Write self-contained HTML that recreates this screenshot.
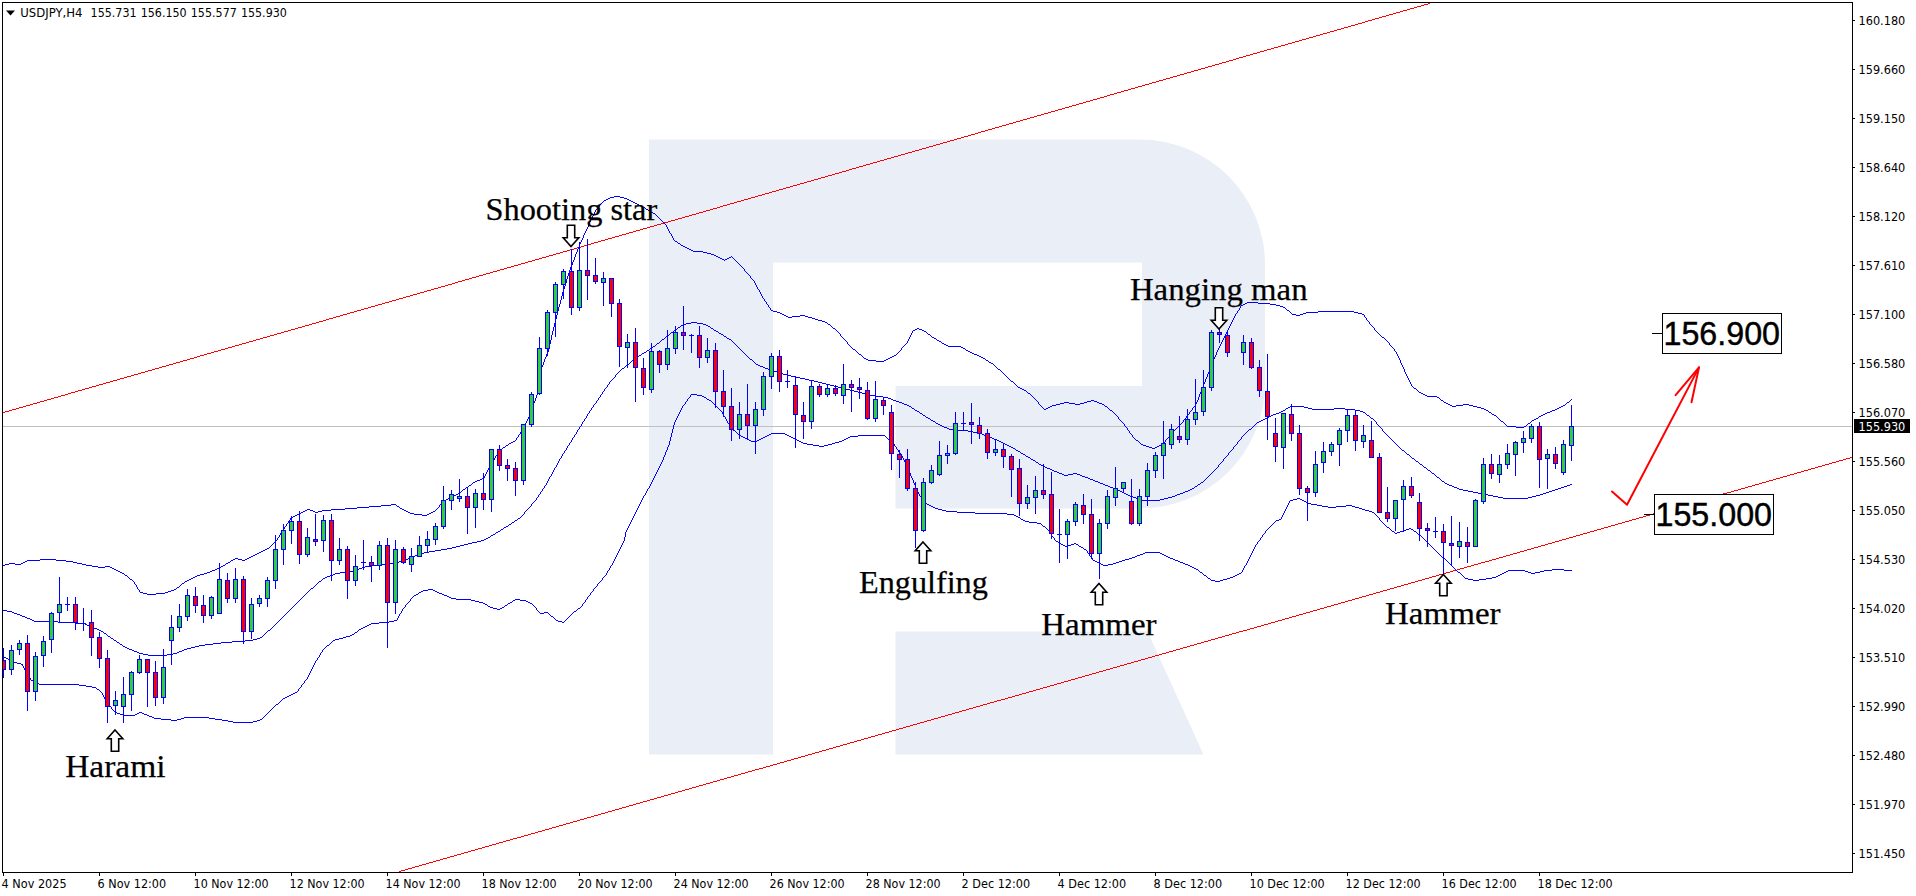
<!DOCTYPE html>
<html lang="en"><head><meta charset="utf-8"><title>USDJPY H4</title>
<style>html,body{margin:0;padding:0;background:#fff;overflow:hidden}svg{display:block}.ax{font-family:"DejaVu Sans","Liberation Sans",sans-serif;font-size:12.4px;fill:#000}.an{font-family:"Liberation Serif","DejaVu Serif",serif;font-size:32px;fill:#000;stroke:#000;stroke-width:0.25px}.pb{font-family:"Liberation Sans","DejaVu Sans",sans-serif;font-size:33.5px;fill:#000;stroke:#000;stroke-width:0.45px}</style></head><body>
<svg width="1916" height="896" viewBox="0 0 1916 896">
<rect width="1916" height="896" fill="#fff"/>
<defs><clipPath id="cp"><rect x="3" y="3" width="1849" height="869"/></clipPath></defs>
<g fill="#eaeef6">
<path fill-rule="evenodd" d="M649 139.5 H1140 A125 125 0 0 1 1265 264.5 V383.5 A125 125 0 0 1 1140 508.5 H895.5 V386 H773 V754.5 H649 Z M773 262.5 H1142 V386 H773 Z"/>
<path d="M895.5 631.5 H1147.5 L1203.5 754.5 H895.5 Z"/>
</g>
<rect x="3" y="426" width="1849" height="1" fill="#c0c0c0"/>
<path fill="#ff0000" shape-rendering="crispEdges" d="M518 264h3v1h-3zM1271 48h3v1h-3zM92 386h4v1h-4zM256 339h4v1h-4zM417 293h3v1h-3zM936 144h4v1h-4zM1260 51h4v1h-4zM82 389h3v1h-3zM835 173h4v1h-4zM601 240h4v1h-4zM1194 70h4v1h-4zM1355 24h3v1h-3zM148 370h4v1h-4zM765 193h4v1h-4zM668 221h3v1h-3zM926 147h3v1h-3zM828 175h4v1h-4zM242 343h4v1h-4zM500 269h4v1h-4zM859 166h4v1h-4zM1020 120h3v1h-3zM1344 27h4v1h-4zM1110 94h4v1h-4zM657 224h4v1h-4zM818 178h3v1h-3zM71 392h4v1h-4zM232 346h3v1h-3zM1177 75h3v1h-3zM1337 29h4v1h-4zM849 169h3v1h-3zM751 197h4v1h-4zM1009 123h4v1h-4zM323 320h3v1h-3zM483 274h3v1h-3zM1076 104h3v1h-3zM842 171h4v1h-4zM221 349h4v1h-4zM1166 78h4v1h-4zM1327 32h3v1h-3zM741 200h3v1h-3zM54 397h4v1h-4zM312 323h4v1h-4zM214 351h4v1h-4zM832 174h3v1h-3zM992 128h3v1h-3zM406 296h4v1h-4zM1351 25h4v1h-4zM1316 35h4v1h-4zM472 277h4v1h-4zM730 203h4v1h-4zM633 231h3v1h-3zM1250 54h3v1h-3zM1410 8h4v1h-4zM44 400h3v1h-3zM204 354h3v1h-3zM563 251h4v1h-4zM821 177h4v1h-4zM981 131h4v1h-4zM138 373h3v1h-3zM298 327h4v1h-4zM1341 28h3v1h-3zM915 150h4v1h-4zM462 280h3v1h-3zM1239 57h4v1h-4zM1142 85h3v1h-3zM127 376h4v1h-4zM880 160h4v1h-4zM647 227h3v1h-3zM807 181h4v1h-4zM1400 11h3v1h-3zM971 134h4v1h-4zM1131 88h4v1h-4zM546 256h3v1h-3zM1065 107h4v1h-4zM1226 61h3v1h-3zM19 407h4v1h-4zM378 304h4v1h-4zM636 230h4v1h-4zM797 184h3v1h-3zM1389 14h4v1h-4zM51 398h3v1h-3zM211 352h3v1h-3zM1156 81h3v1h-3zM277 333h4v1h-4zM438 287h3v1h-3zM1055 110h3v1h-3zM957 138h4v1h-4zM9 410h3v1h-3zM368 307h3v1h-3zM528 261h4v1h-4zM103 383h3v1h-3zM1145 84h4v1h-4zM1306 38h3v1h-3zM720 206h3v1h-3zM852 168h4v1h-4zM1212 65h3v1h-3zM1372 19h3v1h-3zM33 403h4v1h-4zM194 357h3v1h-3zM786 187h4v1h-4zM947 141h3v1h-3zM357 310h4v1h-4zM877 161h3v1h-3zM1037 115h4v1h-4zM452 283h3v1h-3zM612 237h3v1h-3zM23 406h3v1h-3zM183 360h4v1h-4zM542 257h4v1h-4zM703 211h3v1h-3zM1295 41h4v1h-4zM117 379h3v1h-3zM89 387h3v1h-3zM249 341h4v1h-4zM866 164h4v1h-4zM1027 118h3v1h-3zM441 286h4v1h-4zM343 314h4v1h-4zM961 137h3v1h-3zM1121 91h3v1h-3zM532 260h3v1h-3zM692 214h4v1h-4zM173 363h3v1h-3zM333 317h3v1h-3zM950 140h4v1h-4zM1016 121h4v1h-4zM591 243h3v1h-3zM682 217h3v1h-3zM1362 22h3v1h-3zM776 190h3v1h-3zM347 313h3v1h-3zM507 267h4v1h-4zM1100 97h4v1h-4zM574 248h3v1h-3zM1191 71h3v1h-3zM1093 99h4v1h-4zM1285 44h3v1h-3zM78 390h4v1h-4zM336 316h4v1h-4zM239 344h3v1h-3zM497 270h3v1h-3zM856 167h3v1h-3zM1083 102h3v1h-3zM1243 56h3v1h-3zM1274 47h4v1h-4zM68 393h3v1h-3zM228 347h4v1h-4zM748 198h3v1h-3zM908 152h4v1h-4zM162 366h4v1h-4zM1072 105h4v1h-4zM486 273h4v1h-4zM413 294h4v1h-4zM577 247h4v1h-4zM737 201h4v1h-4zM152 369h3v1h-3zM1257 52h3v1h-3zM671 220h4v1h-4zM218 350h3v1h-3zM995 127h4v1h-4zM898 155h3v1h-3zM1058 109h4v1h-4zM661 223h3v1h-3zM887 158h4v1h-4zM302 326h3v1h-3zM1407 9h3v1h-3zM553 254h3v1h-3zM1396 12h4v1h-4zM811 180h3v1h-3zM284 331h4v1h-4zM445 285h3v1h-3zM1062 108h3v1h-3zM1222 62h4v1h-4zM476 276h3v1h-3zM863 165h3v1h-3zM274 334h3v1h-3zM793 185h4v1h-4zM1051 111h4v1h-4zM954 139h3v1h-3zM465 279h4v1h-4zM626 233h3v1h-3zM1117 92h4v1h-4zM1278 46h3v1h-3zM458 281h4v1h-4zM783 188h3v1h-3zM943 142h4v1h-4zM197 356h3v1h-3zM1302 39h4v1h-4zM448 284h4v1h-4zM608 238h4v1h-4zM1201 68h4v1h-4zM1386 15h3v1h-3zM598 241h3v1h-3zM758 195h4v1h-4zM1375 18h4v1h-4zM790 186h3v1h-3zM263 337h4v1h-4zM424 291h3v1h-3zM587 244h4v1h-4zM1107 95h3v1h-3zM1267 49h4v1h-4zM253 340h3v1h-3zM155 368h4v1h-4zM772 191h4v1h-4zM933 145h3v1h-3zM319 321h4v1h-4zM479 275h4v1h-4zM145 371h3v1h-3zM504 268h3v1h-3zM762 194h3v1h-3zM664 222h4v1h-4zM922 148h4v1h-4zM1281 45h4v1h-4zM988 129h4v1h-4zM403 297h3v1h-3zM169 364h4v1h-4zM1180 74h4v1h-4zM134 374h4v1h-4zM493 271h4v1h-4zM1246 55h4v1h-4zM159 367h3v1h-3zM912 151h3v1h-3zM1330 31h4v1h-4zM1097 98h3v1h-3zM1421 5h3v1h-3zM309 324h3v1h-3zM469 278h3v1h-3zM727 204h3v1h-3zM1086 101h4v1h-4zM207 353h4v1h-4zM1313 36h3v1h-3zM978 132h3v1h-3zM392 300h4v1h-4zM124 377h3v1h-3zM643 228h4v1h-4zM1236 58h3v1h-3zM58 396h3v1h-3zM30 404h3v1h-3zM190 358h4v1h-4zM710 209h3v1h-3zM968 135h3v1h-3zM382 303h3v1h-3zM901 154h4v1h-4zM1152 82h4v1h-4zM113 380h4v1h-4zM891 157h3v1h-3zM622 234h4v1h-4zM288 330h3v1h-3zM1041 114h3v1h-3zM514 265h4v1h-4zM675 219h3v1h-3zM1292 42h3v1h-3zM706 210h4v1h-4zM180 361h3v1h-3zM1023 119h4v1h-4zM1184 73h3v1h-3zM1215 64h4v1h-4zM689 215h3v1h-3zM1013 122h3v1h-3zM1173 76h4v1h-4zM427 290h4v1h-4zM61 395h4v1h-4zM420 292h4v1h-4zM678 218h4v1h-4zM839 172h3v1h-3zM1198 69h3v1h-3zM1358 23h4v1h-4zM1187 72h4v1h-4zM1348 26h3v1h-3zM654 225h3v1h-3zM225 348h3v1h-3zM385 302h4v1h-4zM1002 125h4v1h-4zM1163 79h3v1h-3zM804 182h3v1h-3zM375 305h3v1h-3zM734 202h3v1h-3zM894 156h4v1h-4zM567 250h3v1h-3zM1219 63h3v1h-3zM40 401h4v1h-4zM399 298h4v1h-4zM723 205h4v1h-4zM884 159h3v1h-3zM1403 10h4v1h-4zM389 301h3v1h-3zM549 255h4v1h-4zM873 162h4v1h-4zM1233 59h3v1h-3zM1393 13h3v1h-3zM539 258h3v1h-3zM699 212h4v1h-4zM1382 16h4v1h-4zM364 308h4v1h-4zM1048 112h3v1h-3zM1208 66h4v1h-4zM354 311h3v1h-3zM713 208h4v1h-4zM260 338h3v1h-3zM940 143h3v1h-3zM85 388h4v1h-4zM929 146h4v1h-4zM75 391h3v1h-3zM434 288h4v1h-4zM594 242h4v1h-4zM99 384h4v1h-4zM584 245h3v1h-3zM744 199h4v1h-4zM410 295h3v1h-3zM1253 53h4v1h-4zM1414 7h3v1h-3zM919 149h3v1h-3zM1079 103h4v1h-4zM65 394h3v1h-3zM131 375h3v1h-3zM650 226h4v1h-4zM120 378h4v1h-4zM640 229h3v1h-3zM800 183h4v1h-4zM1159 80h4v1h-4zM1417 6h4v1h-4zM1124 90h4v1h-4zM305 325h4v1h-4zM629 232h4v1h-4zM295 328h3v1h-3zM455 282h3v1h-3zM615 236h4v1h-4zM605 239h3v1h-3zM964 136h4v1h-4zM1288 43h4v1h-4zM110 381h3v1h-3zM270 335h4v1h-4zM1114 93h3v1h-3zM3 412h2v1h-2zM619 235h3v1h-3zM779 189h4v1h-4zM1138 86h4v1h-4zM326 319h3v1h-3zM350 312h4v1h-4zM511 266h3v1h-3zM769 192h3v1h-3zM1128 89h3v1h-3zM16 408h3v1h-3zM176 362h4v1h-4zM340 315h3v1h-3zM166 365h3v1h-3zM1104 96h3v1h-3zM1428 3h2v1h-2zM316 322h3v1h-3zM999 126h3v1h-3zM825 176h3v1h-3zM329 318h4v1h-4zM490 272h3v1h-3zM37 402h3v1h-3zM556 253h4v1h-4zM814 179h4v1h-4zM1334 30h3v1h-3zM1323 33h4v1h-4zM1149 83h3v1h-3zM361 309h3v1h-3zM26 405h4v1h-4zM870 163h3v1h-3zM1030 117h4v1h-4zM535 259h4v1h-4zM696 213h3v1h-3zM1379 17h3v1h-3zM200 355h4v1h-4zM267 336h3v1h-3zM525 262h3v1h-3zM1044 113h4v1h-4zM1205 67h3v1h-3zM5 411h4v1h-4zM1368 20h4v1h-4zM685 216h4v1h-4zM846 170h3v1h-3zM1034 116h3v1h-3zM581 246h3v1h-3zM1424 4h4v1h-4zM246 342h3v1h-3zM570 249h4v1h-4zM1090 100h3v1h-3zM235 345h4v1h-4zM396 299h3v1h-3zM755 196h3v1h-3zM975 133h3v1h-3zM905 153h3v1h-3zM1229 60h4v1h-4zM560 252h3v1h-3zM106 382h4v1h-4zM291 329h4v1h-4zM1069 106h3v1h-3zM281 332h3v1h-3zM431 289h3v1h-3zM96 385h3v1h-3zM1006 124h3v1h-3zM1264 50h3v1h-3zM1320 34h3v1h-3zM141 372h4v1h-4zM985 130h3v1h-3zM1309 37h4v1h-4zM717 207h3v1h-3zM1135 87h3v1h-3zM12 409h4v1h-4zM521 263h4v1h-4zM1299 40h3v1h-3zM187 359h3v1h-3zM1170 77h3v1h-3zM47 399h4v1h-4zM371 306h4v1h-4zM1365 21h3v1h-3zM917 723h3v1h-3zM1078 677h4v1h-4zM1341 602h4v1h-4zM461 853h3v1h-3zM1503 556h3v1h-3zM983 704h4v1h-4zM1597 529h4v1h-4zM1239 631h4v1h-4zM1527 549h4v1h-4zM647 800h3v1h-3zM1688 503h4v1h-4zM808 754h4v1h-4zM1169 651h4v1h-4zM1331 605h3v1h-3zM450 856h4v1h-4zM1264 624h4v1h-4zM1425 578h4v1h-4zM545 829h4v1h-4zM1517 552h3v1h-3zM636 803h4v1h-4zM1678 506h3v1h-3zM798 757h3v1h-3zM1061 682h3v1h-3zM1222 636h3v1h-3zM1611 525h4v1h-4zM731 776h3v1h-3zM1773 479h3v1h-3zM892 730h4v1h-4zM1583 533h4v1h-4zM1745 487h3v1h-3zM1254 627h3v1h-3zM1415 581h3v1h-3zM1839 460h4v1h-4zM822 750h4v1h-4zM1506 555h4v1h-4zM528 834h3v1h-3zM1050 685h4v1h-4zM720 779h4v1h-4zM1145 658h3v1h-3zM1667 509h4v1h-4zM787 760h4v1h-4zM1829 463h3v1h-3zM948 714h4v1h-4zM1236 632h3v1h-3zM1397 586h4v1h-4zM517 837h4v1h-4zM1759 483h3v1h-3zM878 734h4v1h-4zM1492 559h4v1h-4zM612 810h3v1h-3zM973 707h3v1h-3zM1134 661h4v1h-4zM542 830h3v1h-3zM703 784h3v1h-3zM1225 635h4v1h-4zM1387 589h3v1h-3zM1320 608h4v1h-4zM440 859h3v1h-3zM1481 562h4v1h-4zM601 813h4v1h-4zM1843 459h3v1h-3zM962 710h4v1h-4zM864 738h4v1h-4zM1548 543h4v1h-4zM531 833h4v1h-4zM692 787h4v1h-4zM1643 516h3v1h-3zM626 806h3v1h-3zM1310 611h3v1h-3zM429 862h4v1h-4zM1734 490h4v1h-4zM854 741h3v1h-3zM1376 592h4v1h-4zM1471 565h3v1h-3zM591 816h3v1h-3zM1632 519h4v1h-4zM752 770h3v1h-3zM1040 688h3v1h-3zM1201 642h3v1h-3zM1562 539h4v1h-4zM682 790h3v1h-3zM1723 493h4v1h-4zM843 744h4v1h-4zM415 866h4v1h-4zM1657 512h3v1h-3zM777 763h3v1h-3zM1818 466h4v1h-4zM938 717h3v1h-3zM1460 568h4v1h-4zM506 840h4v1h-4zM1029 691h4v1h-4zM1453 570h4v1h-4zM1124 664h3v1h-3zM1646 515h4v1h-4zM766 766h4v1h-4zM1808 469h3v1h-3zM927 720h4v1h-4zM1190 645h4v1h-4zM1352 599h3v1h-3zM496 843h3v1h-3zM857 740h4v1h-4zM759 768h4v1h-4zM920 722h4v1h-4zM1282 619h3v1h-3zM401 870h4v1h-4zM1443 573h3v1h-3zM563 824h3v1h-3zM952 713h3v1h-3zM1113 667h4v1h-4zM1538 546h3v1h-3zM657 797h4v1h-4zM1180 648h3v1h-3zM1629 520h3v1h-3zM748 771h4v1h-4zM1790 474h4v1h-4zM910 725h3v1h-3zM1271 622h4v1h-4zM1432 576h4v1h-4zM1005 698h3v1h-3zM1366 595h3v1h-3zM485 846h4v1h-4zM934 718h4v1h-4zM1096 672h3v1h-3zM577 820h3v1h-3zM1618 523h4v1h-4zM738 774h3v1h-3zM671 793h4v1h-4zM1713 496h3v1h-3zM833 747h3v1h-3zM1355 598h4v1h-4zM1257 626h4v1h-4zM1780 477h3v1h-3zM994 701h3v1h-3zM1155 655h4v1h-4zM661 796h3v1h-3zM1085 675h4v1h-4zM1247 629h3v1h-3zM1769 480h4v1h-4zM552 827h4v1h-4zM1075 678h3v1h-3zM1692 502h3v1h-3zM899 728h4v1h-4zM1261 625h3v1h-3zM1422 579h3v1h-3zM805 755h3v1h-3zM1846 458h4v1h-4zM966 709h3v1h-3zM475 849h3v1h-3zM1159 654h3v1h-3zM727 777h4v1h-4zM889 731h3v1h-3zM1250 628h4v1h-4zM1411 582h4v1h-4zM1313 610h4v1h-4zM1674 507h4v1h-4zM794 758h4v1h-4zM1836 461h3v1h-3zM955 712h4v1h-4zM464 852h4v1h-4zM1573 536h3v1h-3zM1141 659h4v1h-4zM1664 510h3v1h-3zM447 857h3v1h-3zM608 811h4v1h-4zM1064 681h4v1h-4zM1748 486h4v1h-4zM770 765h3v1h-3zM1054 684h3v1h-3zM1215 638h3v1h-3zM1478 563h3v1h-3zM598 814h3v1h-3zM1639 517h4v1h-4zM1120 665h4v1h-4zM1832 462h4v1h-4zM784 761h3v1h-3zM1825 464h4v1h-4zM945 715h3v1h-3zM1467 566h4v1h-4zM587 817h4v1h-4zM1204 641h4v1h-4zM1292 616h4v1h-4zM412 867h3v1h-3zM1653 513h4v1h-4zM773 764h4v1h-4zM1815 467h3v1h-3zM1197 643h4v1h-4zM1359 597h3v1h-3zM868 737h3v1h-3zM1552 542h3v1h-3zM573 821h4v1h-4zM664 795h4v1h-4zM1804 470h4v1h-4zM1187 646h3v1h-3zM1348 600h4v1h-4zM468 851h3v1h-3zM1019 694h3v1h-3zM1709 497h4v1h-4zM924 721h3v1h-3zM492 844h4v1h-4zM1457 569h3v1h-3zM1099 671h4v1h-4zM1001 699h4v1h-4zM1162 653h4v1h-4zM1524 550h3v1h-3zM1685 504h3v1h-3zM1194 644h3v1h-3zM1446 572h4v1h-4zM566 823h4v1h-4zM1608 526h3v1h-3zM990 702h4v1h-4zM1152 656h3v1h-3zM1513 553h4v1h-4zM1183 647h4v1h-4zM1176 649h4v1h-4zM1338 603h3v1h-3zM457 854h4v1h-4zM980 705h3v1h-3zM643 801h4v1h-4zM1166 652h3v1h-3zM1327 606h4v1h-4zM1590 531h4v1h-4zM1752 485h3v1h-3zM1783 476h4v1h-4zM903 727h3v1h-3zM1489 560h3v1h-3zM471 850h4v1h-4zM633 804h3v1h-3zM1317 609h3v1h-3zM436 860h4v1h-4zM622 807h4v1h-4zM1401 585h3v1h-3zM969 708h4v1h-4zM1131 662h3v1h-3zM1555 541h4v1h-4zM1587 532h3v1h-3zM706 783h4v1h-4zM959 711h3v1h-3zM1383 590h4v1h-4zM503 841h3v1h-3zM1576 535h4v1h-4zM1569 537h4v1h-4zM689 788h3v1h-3zM1731 491h3v1h-3zM850 742h4v1h-4zM1211 639h4v1h-4zM1373 593h3v1h-3zM1306 612h4v1h-4zM426 863h3v1h-3zM1036 689h4v1h-4zM1559 540h3v1h-3zM678 791h4v1h-4zM1720 494h3v1h-3zM840 745h3v1h-3zM1296 615h3v1h-3zM1026 692h3v1h-3zM763 767h3v1h-3zM829 748h4v1h-4zM1534 547h4v1h-4zM654 798h3v1h-3zM1015 695h4v1h-4zM1110 668h3v1h-3zM1794 473h3v1h-3zM913 724h4v1h-4zM1362 596h4v1h-4zM482 847h3v1h-3zM906 726h4v1h-4zM1429 577h3v1h-3zM668 794h3v1h-3zM1615 524h3v1h-3zM734 775h4v1h-4zM1776 478h4v1h-4zM896 729h3v1h-3zM405 869h3v1h-3zM1418 580h4v1h-4zM1082 676h3v1h-3zM1243 630h4v1h-4zM1604 527h4v1h-4zM724 778h3v1h-3zM1766 481h3v1h-3zM885 732h4v1h-4zM1699 500h3v1h-3zM819 751h3v1h-3zM549 828h3v1h-3zM1071 679h4v1h-4zM1850 457h2v1h-2zM1232 633h4v1h-4zM1394 587h3v1h-3zM538 831h4v1h-4zM1580 534h3v1h-3zM699 785h4v1h-4zM1408 583h3v1h-3zM1594 530h3v1h-3zM713 781h4v1h-4zM1755 484h4v1h-4zM875 735h3v1h-3zM1299 614h4v1h-4zM1822 465h3v1h-3zM1127 663h4v1h-4zM1289 617h3v1h-3zM408 868h4v1h-4zM1811 468h4v1h-4zM433 861h3v1h-3zM1474 564h4v1h-4zM594 815h4v1h-4zM1117 666h3v1h-3zM1278 620h4v1h-4zM780 762h4v1h-4zM941 716h4v1h-4zM1303 613h3v1h-3zM422 864h4v1h-4zM584 818h3v1h-3zM1625 521h4v1h-4zM931 719h3v1h-3zM1092 673h4v1h-4zM1285 618h4v1h-4zM399 871h2v1h-2zM1801 471h3v1h-3zM1106 669h4v1h-4zM1268 623h3v1h-3zM650 799h4v1h-4zM812 753h3v1h-3zM1520 551h4v1h-4zM640 802h3v1h-3zM1681 505h4v1h-4zM801 756h4v1h-4zM826 749h3v1h-3zM987 703h3v1h-3zM629 805h4v1h-4zM615 809h4v1h-4zM1324 607h3v1h-3zM443 858h4v1h-4zM1485 561h4v1h-4zM605 812h3v1h-3zM791 759h3v1h-3zM1499 557h4v1h-4zM619 808h3v1h-3zM1660 511h4v1h-4zM1043 687h4v1h-4zM1566 538h3v1h-3zM1727 492h4v1h-4zM1650 514h3v1h-3zM1033 690h3v1h-3zM1464 567h3v1h-3zM1008 697h4v1h-4zM1369 594h4v1h-4zM1531 548h3v1h-3zM1716 495h4v1h-4zM836 746h4v1h-4zM478 848h4v1h-4zM1022 693h4v1h-4zM1545 544h3v1h-3zM1706 498h3v1h-3zM1012 696h3v1h-3zM1173 650h3v1h-3zM1695 501h4v1h-4zM1334 604h4v1h-4zM1510 554h3v1h-3zM815 752h4v1h-4zM1762 482h4v1h-4zM976 706h4v1h-4zM1138 660h3v1h-3zM1068 680h3v1h-3zM1229 634h3v1h-3zM871 736h4v1h-4zM1702 499h4v1h-4zM535 832h3v1h-3zM696 786h3v1h-3zM1057 683h4v1h-4zM1218 637h4v1h-4zM1404 584h4v1h-4zM524 835h4v1h-4zM710 782h3v1h-3zM513 838h4v1h-4zM675 792h3v1h-3zM1741 488h4v1h-4zM861 739h3v1h-3zM1047 686h3v1h-3zM1208 640h3v1h-3zM1275 621h3v1h-3zM1436 575h3v1h-3zM580 819h4v1h-4zM1622 522h3v1h-3zM741 773h4v1h-4zM1450 571h3v1h-3zM570 822h3v1h-3zM1636 518h3v1h-3zM755 769h4v1h-4zM1797 472h4v1h-4zM1439 574h4v1h-4zM1787 475h3v1h-3zM559 825h4v1h-4zM1601 528h3v1h-3zM882 733h3v1h-3zM1496 558h3v1h-3zM685 789h4v1h-4zM419 865h3v1h-3zM1103 670h3v1h-3zM745 772h3v1h-3zM997 700h4v1h-4zM1345 601h3v1h-3zM1148 657h4v1h-4zM454 855h3v1h-3zM717 780h3v1h-3zM1671 508h3v1h-3zM1738 489h3v1h-3zM521 836h3v1h-3zM1390 588h4v1h-4zM510 839h3v1h-3zM1380 591h3v1h-3zM499 842h4v1h-4zM1541 545h4v1h-4zM847 743h3v1h-3zM489 845h3v1h-3zM1089 674h3v1h-3zM556 826h3v1h-3z"/>
<path fill="#0000ff" shape-rendering="crispEdges" d="M653 213h2v1h-2zM890 357h2v1h-2zM981 357h2v1h-2zM859 354h2v1h-2zM974 354h3v1h-3zM966 350h2v1h-2zM1060 403h4v1h-4zM1069 403h6v1h-6zM1080 403h4v1h-4zM1099 403h3v1h-3zM1446 403h2v1h-2zM9 563h6v1h-6zM21 563h2v1h-2zM77 563h5v1h-5zM226 563h2v1h-2zM357 507h12v1h-12zM777 312h3v1h-3zM1306 312h12v1h-12zM1354 312h4v1h-4zM1050 406h2v1h-2zM1105 406h2v1h-2zM1452 406h4v1h-4zM1473 406h4v1h-4zM1561 406h2v1h-2zM1064 402h5v1h-5zM1084 402h3v1h-3zM1097 402h2v1h-2zM1444 402h2v1h-2zM1567 402h2v1h-2zM1494 415h2v1h-2zM1541 415h2v1h-2zM1247 302h11v1h-11zM1087 401h4v1h-4zM1094 401h3v1h-3zM120 572h2v1h-2zM207 572h3v1h-3zM833 328h2v1h-2zM917 328h2v1h-2zM1141 444h2v1h-2zM1161 444h2v1h-2zM773 311h4v1h-4zM1318 311h36v1h-36zM924 331h2v1h-2zM782 314h2v1h-2zM1292 314h4v1h-4zM1300 314h3v1h-3zM1362 314h2v1h-2zM1492 414h2v1h-2zM1543 414h2v1h-2zM1024 390h2v1h-2zM876 361h8v1h-8zM1048 407h2v1h-2zM1477 407h4v1h-4zM1559 407h2v1h-2zM892 356h2v1h-2zM979 356h2v1h-2zM1018 387h2v1h-2zM1534 419h2v1h-2zM894 355h2v1h-2zM977 355h2v1h-2zM610 197h4v1h-4zM620 197h4v1h-4zM968 351h2v1h-2zM1245 303h2v1h-2zM1258 303h12v1h-12zM305 510h2v1h-2zM310 510h3v1h-3zM322 510h9v1h-9zM404 510h2v1h-2zM291 517h2v1h-2zM187 580h2v1h-2zM1052 405h4v1h-4zM1450 405h2v1h-2zM1456 405h7v1h-7zM1469 405h4v1h-4zM1563 405h2v1h-2zM961 347h2v1h-2zM143 593h4v1h-4zM156 593h9v1h-9zM25 561h2v1h-2zM66 561h7v1h-7zM780 313h2v1h-2zM1303 313h3v1h-3zM1358 313h4v1h-4zM235 558h3v1h-3zM247 558h2v1h-2zM939 341h2v1h-2zM40 559h16v1h-16zM233 559h2v1h-2zM238 559h4v1h-4zM245 559h2v1h-2zM307 509h3v1h-3zM331 509h14v1h-14zM402 509h2v1h-2zM693 251h10v1h-10zM506 445h2v1h-2zM1143 445h3v1h-3zM1159 445h2v1h-2zM932 337h2v1h-2zM1382 337h2v1h-2zM915 329h2v1h-2zM919 329h3v1h-3zM812 318h3v1h-3zM1550 411h2v1h-2zM1423 394h2v1h-2zM1056 404h4v1h-4zM1075 404h5v1h-5zM1102 404h2v1h-2zM1448 404h2v1h-2zM1463 404h6v1h-6zM608 198h2v1h-2zM624 198h3v1h-3zM297 514h2v1h-2zM414 514h8v1h-8zM427 514h2v1h-2zM946 345h2v1h-2zM1536 418h2v1h-2zM1241 305h2v1h-2zM1276 305h4v1h-4zM267 548h2v1h-2zM122 573h2v1h-2zM204 573h3v1h-3zM130 579h2v1h-2zM189 579h2v1h-2zM140 592h3v1h-3zM165 592h3v1h-3zM822 321h3v1h-3zM1427 396h10v1h-10zM637 204h2v1h-2zM1046 408h2v1h-2zM1481 408h3v1h-3zM1557 408h2v1h-2zM825 322h2v1h-2zM454 495h2v1h-2zM381 505h10v1h-10zM1501 421h2v1h-2zM301 512h2v1h-2zM315 512h3v1h-3zM408 512h2v1h-2zM431 512h2v1h-2zM5 564h4v1h-4zM15 564h6v1h-6zM82 564h4v1h-4zM299 513h2v1h-2zM410 513h4v1h-4zM429 513h2v1h-2zM1028 393h2v1h-2zM1421 393h2v1h-2zM720 258h2v1h-2zM727 258h2v1h-2zM614 196h6v1h-6zM1044 409h2v1h-2zM1484 409h2v1h-2zM1555 409h2v1h-2zM948 346h13v1h-13zM369 506h12v1h-12zM397 506h2v1h-2zM503 447h2v1h-2zM1149 447h3v1h-3zM1155 447h2v1h-2zM125 575h2v1h-2zM197 575h3v1h-3zM913 330h2v1h-2zM922 330h2v1h-2zM27 560h13v1h-13zM56 560h10v1h-10zM231 560h2v1h-2zM242 560h3v1h-3zM998 369h2v1h-2zM641 206h2v1h-2zM480 479h2v1h-2zM259 552h2v1h-2zM446 499h2v1h-2zM818 320h4v1h-4zM944 344h2v1h-2zM1507 426h9v1h-9zM1524 426h2v1h-2zM683 246h2v1h-2zM1532 420h2v1h-2zM112 568h2v1h-2zM217 568h2v1h-2zM1489 412h2v1h-2zM1547 412h3v1h-3zM868 360h8v1h-8zM884 360h2v1h-2zM986 360h2v1h-2zM928 334h2v1h-2zM1280 306h3v1h-3zM1425 395h2v1h-2zM513 441h2v1h-2zM98 567h7v1h-7zM110 567h2v1h-2zM219 567h2v1h-2zM114 569h2v1h-2zM215 569h2v1h-2zM147 594h9v1h-9zM942 343h2v1h-2zM687 248h2v1h-2zM853 349h2v1h-2zM970 352h2v1h-2zM989 362h2v1h-2zM1243 304h2v1h-2zM1270 304h6v1h-6zM168 591h3v1h-3zM786 316h2v1h-2zM792 316h8v1h-8zM805 316h3v1h-3zM934 338h2v1h-2zM249 557h2v1h-2zM771 310h2v1h-2zM1287 310h2v1h-2zM1022 389h2v1h-2zM1020 388h2v1h-2zM1414 388h2v1h-2zM195 576h2v1h-2zM475 481h2v1h-2zM972 353h2v1h-2zM1528 423h2v1h-2zM463 489h2v1h-2zM23 562h2v1h-2zM73 562h4v1h-4zM228 562h2v1h-2zM991 363h2v1h-2zM345 508h12v1h-12zM400 508h2v1h-2zM3 565h2v1h-2zM86 565h6v1h-6zM223 565h2v1h-2zM681 245h2v1h-2zM1146 446h3v1h-3zM1157 446h2v1h-2zM606 199h2v1h-2zM627 199h2v1h-2zM185 581h2v1h-2zM631 201h2v1h-2zM177 587h2v1h-2zM1539 416h2v1h-2zM1110 410h2v1h-2zM1486 410h2v1h-2zM1552 410h3v1h-3zM257 553h2v1h-2zM92 566h6v1h-6zM105 566h5v1h-5zM221 566h2v1h-2zM864 358h2v1h-2zM888 358h2v1h-2zM983 358h2v1h-2zM1516 427h8v1h-8zM685 247h2v1h-2zM1011 381h2v1h-2zM500 449h2v1h-2zM193 577h2v1h-2zM707 253h4v1h-4zM722 259h2v1h-2zM725 259h2v1h-2zM182 583h2v1h-2zM689 249h2v1h-2zM1437 397h2v1h-2zM200 574h4v1h-4zM116 570h2v1h-2zM212 570h3v1h-3zM265 549h2v1h-2zM456 494h2v1h-2zM651 212h2v1h-2zM963 348h2v1h-2zM718 257h2v1h-2zM729 257h2v1h-2zM452 496h2v1h-2zM815 319h3v1h-3zM191 578h2v1h-2zM1091 400h3v1h-3zM1441 400h2v1h-2zM784 315h2v1h-2zM800 315h5v1h-5zM1296 315h4v1h-4zM477 480h3v1h-3zM639 205h2v1h-2zM675 241h2v1h-2zM444 500h2v1h-2zM711 254h3v1h-3zM1545 413h2v1h-2zM648 210h2v1h-2zM828 324h2v1h-2zM866 359h2v1h-2zM886 359h2v1h-2zM303 511h2v1h-2zM313 511h2v1h-2zM318 511h4v1h-4zM406 511h2v1h-2zM433 511h2v1h-2zM643 207h2v1h-2zM295 515h2v1h-2zM422 515h5v1h-5zM448 498h2v1h-2zM391 504h5v1h-5zM1152 448h3v1h-3zM691 250h2v1h-2zM1419 392h2v1h-2zM604 200h2v1h-2zM629 200h2v1h-2zM118 571h2v1h-2zM210 571h2v1h-2zM459 492h2v1h-2zM635 203h2v1h-2zM174 589h2v1h-2zM788 317h4v1h-4zM808 317h4v1h-4zM255 554h2v1h-2zM646 209h2v1h-2zM678 243h2v1h-2zM511 442h2v1h-2zM937 340h2v1h-2zM469 485h2v1h-2zM716 256h2v1h-2zM171 590h3v1h-3zM1136 440h2v1h-2zM633 202h2v1h-2zM509 443h2v1h-2zM466 487h2v1h-2zM703 252h4v1h-4zM263 550h2v1h-2zM450 497h2v1h-2zM714 255h2v1h-2zM293 516h2v1h-2zM253 555h2v1h-2zM1283 307h2v1h-2zM261 551h2v1h-2zM473 482h2v1h-2zM482 478h2v1h-2zM251 556h2v1h-2zM594 212h1v2h-1zM557 311h1v4h-1zM545 357h1v2h-1zM1217 350h1v2h-1zM1406 374h1v2h-1zM1037 401h1v1h-1zM539 378h1v6h-1zM523 427h1v2h-1zM1124 424h1v2h-1zM1196 402h1v2h-1zM1407 376h1v2h-1zM269 547h1v1h-1zM548 348h1v4h-1zM1230 324h1v2h-1zM562 292h1v4h-1zM574 257h1v3h-1zM1565 404h1v1h-1zM909 337h1v2h-1zM556 315h1v4h-1zM1209 369h1v3h-1zM540 372h1v6h-1zM230 561h1v1h-1zM1221 342h1v2h-1zM744 269h1v2h-1zM566 279h1v4h-1zM1290 312h1v1h-1zM484 476h1v2h-1zM590 220h1v2h-1zM531 409h1v3h-1zM527 419h1v2h-1zM553 327h1v4h-1zM544 359h1v3h-1zM1116 415h1v1h-1zM985 359h1v1h-1zM519 434h1v1h-1zM766 302h1v2h-1zM1443 401h1v1h-1zM1374 328h1v2h-1zM1496 416h1v1h-1zM1205 379h1v3h-1zM1172 432h1v1h-1zM849 345h1v1h-1zM759 290h1v2h-1zM561 296h1v4h-1zM573 260h1v2h-1zM905 344h1v1h-1zM492 461h1v2h-1zM680 244h1v1h-1zM1399 358h1v2h-1zM770 308h1v2h-1zM289 520h1v1h-1zM1123 423h1v1h-1zM134 582h1v2h-1zM1208 372h1v2h-1zM565 283h1v3h-1zM577 249h1v3h-1zM1396 352h1v2h-1zM536 395h1v3h-1zM1380 335h1v1h-1zM272 544h1v1h-1zM1409 380h1v2h-1zM755 283h1v2h-1zM1000 370h1v1h-1zM552 331h1v4h-1zM284 527h1v2h-1zM1127 428h1v2h-1zM1381 336h1v1h-1zM496 455h1v1h-1zM124 574h1v1h-1zM1213 359h1v3h-1zM1225 334h1v2h-1zM488 468h1v2h-1zM585 231h1v2h-1zM1569 401h1v1h-1zM1026 391h1v1h-1zM841 336h1v1h-1zM1184 419h1v1h-1zM1216 352h1v3h-1zM1439 398h1v1h-1zM280 533h1v2h-1zM897 353h1v1h-1zM1115 414h1v1h-1zM437 508h1v1h-1zM440 504h1v1h-1zM1236 313h1v1h-1zM848 344h1v1h-1zM543 362h1v3h-1zM1179 425h1v1h-1zM1373 327h1v1h-1zM1394 349h1v2h-1zM769 307h1v1h-1zM468 486h1v1h-1zM547 352h1v2h-1zM1395 351h1v1h-1zM655 214h1v1h-1zM1036 400h1v1h-1zM569 270h1v3h-1zM1526 425h1v1h-1zM138 589h1v1h-1zM1192 408h1v2h-1zM1240 306h1v2h-1zM1204 382h1v2h-1zM1405 372h1v2h-1zM1538 417h1v1h-1zM589 222h1v2h-1zM1232 320h1v2h-1zM564 286h1v3h-1zM1286 309h1v1h-1zM650 211h1v1h-1zM661 220h1v1h-1zM1187 415h1v1h-1zM515 440h1v1h-1zM840 334h1v2h-1zM662 221h1v1h-1zM1372 326h1v1h-1zM1006 376h1v1h-1zM499 450h1v1h-1zM912 331h1v2h-1zM1207 374h1v3h-1zM535 398h1v3h-1zM995 366h1v1h-1zM522 429h1v2h-1zM1231 322h1v2h-1zM1007 377h1v1h-1zM551 335h1v5h-1zM1488 411h1v1h-1zM1398 356h1v2h-1zM732 257h1v1h-1zM1199 394h1v3h-1zM847 342h1v2h-1zM1195 404h1v2h-1zM495 456h1v2h-1zM754 281h1v2h-1zM908 339h1v2h-1zM733 258h1v1h-1zM1176 428h1v1h-1zM176 588h1v1h-1zM1215 355h1v2h-1zM584 233h1v2h-1zM1126 427h1v1h-1zM1227 330h1v2h-1zM137 587h1v2h-1zM1129 431h1v2h-1zM660 219h1v1h-1zM572 262h1v3h-1zM276 540h1v1h-1zM1039 404h1v1h-1zM597 208h1v1h-1zM279 535h1v2h-1zM1130 433h1v1h-1zM1220 344h1v2h-1zM526 421h1v2h-1zM538 384h1v6h-1zM576 252h1v2h-1zM491 463h1v2h-1zM930 335h1v1h-1zM740 265h1v1h-1zM588 224h1v3h-1zM855 350h1v1h-1zM518 435h1v2h-1zM542 365h1v2h-1zM994 365h1v1h-1zM568 273h1v3h-1zM1112 411h1v1h-1zM931 336h1v1h-1zM746 272h1v1h-1zM1203 384h1v3h-1zM283 529h1v1h-1zM581 240h1v2h-1zM1118 417h1v2h-1zM1168 437h1v1h-1zM593 214h1v2h-1zM747 273h1v1h-1zM731 256h1v1h-1zM768 305h1v2h-1zM1239 308h1v2h-1zM1387 341h1v1h-1zM904 345h1v1h-1zM1119 419h1v1h-1zM563 289h1v3h-1zM537 390h1v5h-1zM560 300h1v4h-1zM1397 354h1v2h-1zM1571 399h1v1h-1zM1163 443h1v1h-1zM1183 420h1v2h-1zM1032 396h1v1h-1zM554 323h1v4h-1zM600 204h1v1h-1zM462 490h1v1h-1zM899 351h1v1h-1zM1013 382h1v1h-1zM738 263h1v1h-1zM1235 314h1v2h-1zM839 333h1v1h-1zM1364 315h1v2h-1zM739 264h1v1h-1zM559 304h1v3h-1zM1404 369h1v3h-1zM1174 430h1v1h-1zM546 354h1v3h-1zM1386 340h1v1h-1zM1365 317h1v1h-1zM225 564h1v1h-1zM1171 433h1v1h-1zM129 578h1v1h-1zM1375 330h1v1h-1zM550 340h1v4h-1zM907 341h1v2h-1zM1031 395h1v1h-1zM1214 357h1v2h-1zM1117 416h1v1h-1zM1226 332h1v2h-1zM271 545h1v1h-1zM567 276h1v3h-1zM558 307h1v4h-1zM555 319h1v4h-1zM286 524h1v2h-1zM571 265h1v2h-1zM850 346h1v1h-1zM136 585h1v2h-1zM498 451h1v2h-1zM1219 346h1v2h-1zM139 590h1v2h-1zM926 332h1v1h-1zM1206 377h1v2h-1zM549 344h1v4h-1zM525 423h1v2h-1zM1186 416h1v2h-1zM575 254h1v3h-1zM657 216h1v1h-1zM534 401h1v2h-1zM1038 402h1v2h-1zM587 227h1v2h-1zM1001 371h1v1h-1zM927 333h1v1h-1zM439 505h1v2h-1zM442 502h1v1h-1zM911 333h1v2h-1zM896 354h1v1h-1zM1211 364h1v3h-1zM282 530h1v2h-1zM1133 437h1v1h-1zM1181 423h1v1h-1zM592 216h1v2h-1zM570 267h1v3h-1zM1238 310h1v1h-1zM1291 313h1v1h-1zM1027 392h1v1h-1zM521 431h1v1h-1zM1401 363h1v2h-1zM533 403h1v3h-1zM583 235h1v3h-1zM489 466h1v2h-1zM1497 417h1v1h-1zM1008 378h1v1h-1zM861 355h1v1h-1zM599 205h1v2h-1zM1498 418h1v1h-1zM505 446h1v1h-1zM1234 316h1v2h-1zM1169 435h1v2h-1zM1189 412h1v2h-1zM541 367h1v5h-1zM656 215h1v1h-1zM902 347h1v1h-1zM532 406h1v3h-1zM582 238h1v2h-1zM1128 430h1v1h-1zM1107 407h1v1h-1zM1202 387h1v2h-1zM1132 435h1v2h-1zM842 337h1v1h-1zM1367 320h1v1h-1zM1440 399h1v1h-1zM663 222h1v1h-1zM671 234h1v2h-1zM1389 343h1v2h-1zM674 240h1v1h-1zM1178 426h1v1h-1zM1201 389h1v3h-1zM857 352h1v1h-1zM1400 360h1v3h-1zM677 242h1v1h-1zM579 244h1v3h-1zM941 342h1v1h-1zM1229 326h1v2h-1zM997 368h1v1h-1zM1120 420h1v1h-1zM749 275h1v1h-1zM1530 422h1v1h-1zM1121 421h1v1h-1zM278 537h1v1h-1zM461 491h1v1h-1zM734 259h1v1h-1zM835 329h1v1h-1zM673 238h1v2h-1zM1041 406h1v1h-1zM273 543h1v1h-1zM1403 367h1v2h-1zM1366 318h1v2h-1zM285 526h1v1h-1zM996 367h1v1h-1zM741 266h1v1h-1zM1218 348h1v2h-1zM670 233h1v1h-1zM1165 440h1v2h-1zM524 425h1v2h-1zM1233 318h1v2h-1zM1388 342h1v1h-1zM1113 412h1v1h-1zM586 229h1v2h-1zM472 483h1v1h-1zM602 202h1v1h-1zM1212 362h1v2h-1zM910 335h1v2h-1zM487 470h1v2h-1zM748 274h1v1h-1zM1033 397h1v1h-1zM399 507h1v1h-1zM180 585h1v1h-1zM591 218h1v2h-1zM1237 311h1v2h-1zM465 488h1v1h-1zM936 339h1v1h-1zM184 582h1v1h-1zM1173 431h1v1h-1zM1040 405h1v1h-1zM1131 434h1v1h-1zM669 231h1v2h-1zM906 343h1v1h-1zM1503 422h1v1h-1zM1200 392h1v2h-1zM856 351h1v1h-1zM578 247h1v2h-1zM1504 423h1v1h-1zM1402 365h1v2h-1zM288 521h1v2h-1zM901 348h1v2h-1zM666 225h1v2h-1zM830 325h1v1h-1zM1138 441h1v1h-1zM1376 331h1v1h-1zM762 296h1v2h-1zM1377 332h1v1h-1zM1224 336h1v2h-1zM1185 418h1v1h-1zM1188 414h1v1h-1zM530 412h1v3h-1zM898 352h1v1h-1zM1500 420h1v1h-1zM441 503h1v1h-1zM1410 382h1v2h-1zM1014 383h1v1h-1zM1108 408h1v1h-1zM1180 424h1v1h-1zM1003 373h1v1h-1zM852 348h1v1h-1zM1015 384h1v1h-1zM658 217h1v1h-1zM1109 409h1v1h-1zM436 509h1v1h-1zM672 236h1v2h-1zM494 458h1v2h-1zM1369 322h1v2h-1zM1134 438h1v1h-1zM1417 390h1v1h-1zM598 207h1v1h-1zM665 224h1v1h-1zM1191 410h1v1h-1zM750 276h1v2h-1zM851 347h1v1h-1zM862 356h1v1h-1zM1499 419h1v1h-1zM751 278h1v1h-1zM988 361h1v1h-1zM863 357h1v1h-1zM724 260h1v1h-1zM1002 372h1v1h-1zM580 242h1v2h-1zM836 330h1v1h-1zM736 261h1v1h-1zM486 472h1v2h-1zM837 331h1v1h-1zM668 229h1v2h-1zM1416 389h1v1h-1zM1228 328h1v2h-1zM843 338h1v1h-1zM1384 338h1v1h-1zM1368 321h1v1h-1zM1009 379h1v1h-1zM471 484h1v1h-1zM844 339h1v1h-1zM1390 345h1v1h-1zM601 203h1v1h-1zM761 294h1v2h-1zM1175 429h1v1h-1zM1010 380h1v1h-1zM1104 405h1v1h-1zM1391 346h1v1h-1zM757 287h1v2h-1zM179 586h1v1h-1zM765 301h1v1h-1zM275 541h1v1h-1zM596 209h1v1h-1zM758 289h1v1h-1zM490 465h1v1h-1zM1122 422h1v1h-1zM1198 397h1v3h-1zM502 448h1v1h-1zM1166 439h1v1h-1zM1042 407h1v1h-1zM1164 442h1v1h-1zM1167 438h1v1h-1zM1223 338h1v2h-1zM664 223h1v1h-1zM529 415h1v2h-1zM667 227h1v2h-1zM1043 408h1v1h-1zM900 350h1v1h-1zM1289 311h1v1h-1zM858 353h1v1h-1zM1506 425h1v1h-1zM1194 406h1v1h-1zM743 268h1v1h-1zM764 299h1v2h-1zM1210 367h1v2h-1zM832 327h1v1h-1zM1411 384h1v2h-1zM1034 398h1v1h-1zM735 260h1v1h-1zM517 437h1v1h-1zM1379 334h1v1h-1zM520 432h1v2h-1zM1408 378h1v2h-1zM1412 386h1v1h-1zM1035 399h1v1h-1zM1170 434h1v1h-1zM1016 385h1v1h-1zM1505 424h1v1h-1zM435 510h1v1h-1zM287 523h1v1h-1zM965 349h1v1h-1zM903 346h1v1h-1zM1017 386h1v1h-1zM742 267h1v1h-1zM270 546h1v1h-1zM1566 403h1v1h-1zM1114 413h1v1h-1zM497 453h1v2h-1zM1371 325h1v1h-1zM443 501h1v1h-1zM1570 400h1v1h-1zM831 326h1v1h-1zM1139 442h1v1h-1zM1182 422h1v1h-1zM645 208h1v1h-1zM760 292h1v2h-1zM1140 443h1v1h-1zM1378 333h1v1h-1zM438 507h1v1h-1zM132 580h1v1h-1zM281 532h1v1h-1zM1222 340h1v2h-1zM290 518h1v2h-1zM753 280h1v1h-1zM485 474h1v2h-1zM528 417h1v2h-1zM1285 308h1v1h-1zM133 581h1v1h-1zM1491 413h1v1h-1zM603 201h1v1h-1zM1125 426h1v1h-1zM1004 374h1v1h-1zM1527 424h1v1h-1zM1005 375h1v1h-1zM595 210h1v2h-1zM277 538h1v2h-1zM396 505h1v1h-1zM1418 391h1v1h-1zM845 340h1v1h-1zM763 298h1v1h-1zM516 438h1v2h-1zM1197 400h1v2h-1zM846 341h1v1h-1zM756 285h1v2h-1zM1392 347h1v1h-1zM274 542h1v1h-1zM767 304h1v1h-1zM1393 348h1v1h-1zM659 218h1v1h-1zM458 493h1v1h-1zM493 460h1v1h-1zM181 584h1v1h-1zM1177 427h1v1h-1zM1531 421h1v1h-1zM1370 324h1v1h-1zM827 323h1v1h-1zM1135 439h1v1h-1zM838 332h1v1h-1zM993 364h1v1h-1zM127 576h1v1h-1zM745 271h1v1h-1zM1190 411h1v1h-1zM1193 407h1v1h-1zM508 444h1v1h-1zM1385 339h1v1h-1zM128 577h1v1h-1zM1030 394h1v1h-1zM752 279h1v1h-1zM1413 387h1v1h-1zM135 584h1v1h-1zM737 262h1v1h-1z"/>
<path fill="#0000ff" shape-rendering="crispEdges" d="M928 418h2v1h-2zM1265 418h2v1h-2zM1371 418h2v1h-2zM389 563h5v1h-5zM1126 494h2v1h-2zM1177 494h3v1h-3zM1483 494h5v1h-5zM1540 494h3v1h-3zM1122 492h2v1h-2zM1183 492h2v1h-2zM1473 492h5v1h-5zM1546 492h3v1h-3zM213 643h8v1h-8zM382 564h7v1h-7zM129 649h3v1h-3zM184 649h3v1h-3zM34 621h24v1h-24zM1312 409h22v1h-22zM1345 409h10v1h-10zM504 527h2v1h-2zM949 429h9v1h-9zM1249 429h2v1h-2zM809 380h5v1h-5zM1059 473h3v1h-3zM1073 473h4v1h-4zM1432 473h2v1h-2zM1108 486h2v1h-2zM1195 486h2v1h-2zM1452 486h2v1h-2zM1564 486h3v1h-3zM199 645h6v1h-6zM94 628h3v1h-3zM1098 482h2v1h-2zM1201 482h2v1h-2zM1041 465h2v1h-2zM642 353h2v1h-2zM870 395h5v1h-5zM1100 483h3v1h-3zM1445 483h2v1h-2zM1007 445h2v1h-2zM87 625h3v1h-3zM724 336h2v1h-2zM1090 479h3v1h-3zM1033 460h2v1h-2zM148 655h19v1h-19zM1016 450h2v1h-2zM1402 450h2v1h-2zM1009 446h2v1h-2zM1001 442h2v1h-2zM1142 500h18v1h-18zM639 355h2v1h-2zM1263 419h2v1h-2zM915 410h2v1h-2zM1283 410h2v1h-2zM1355 410h5v1h-5zM30 619h2v1h-2zM1082 476h3v1h-3zM994 439h3v1h-3zM982 434h2v1h-2zM926 417h2v1h-2zM1267 417h2v1h-2zM22 616h3v1h-3zM127 648h2v1h-2zM187 648h4v1h-4zM909 406h2v1h-2zM1290 406h14v1h-14zM488 537h2v1h-2zM117 642h2v1h-2zM221 642h11v1h-11zM14 613h3v1h-3zM942 426h2v1h-2zM424 552h5v1h-5zM1062 474h2v1h-2zM1068 474h5v1h-5zM1077 474h3v1h-3zM1124 493h2v1h-2zM1180 493h3v1h-3zM1478 493h5v1h-5zM1543 493h3v1h-3zM484 539h2v1h-2zM888 398h3v1h-3zM143 654h5v1h-5zM167 654h6v1h-6zM627 364h2v1h-2zM756 364h2v1h-2zM447 548h5v1h-5zM978 433h4v1h-4zM137 652h2v1h-2zM177 652h2v1h-2zM912 408h2v1h-2zM1286 408h2v1h-2zM1308 408h4v1h-4zM1334 408h11v1h-11zM1133 497h3v1h-3zM1168 497h4v1h-4zM1498 497h5v1h-5zM1528 497h4v1h-4zM311 588h2v1h-2zM1093 480h2v1h-2zM1026 456h2v1h-2zM1115 489h2v1h-2zM1190 489h2v1h-2zM1459 489h4v1h-4zM1555 489h3v1h-3zM773 371h4v1h-4zM435 550h6v1h-6zM958 430h10v1h-10zM104 633h2v1h-2zM1105 485h3v1h-3zM1449 485h3v1h-3zM1567 485h3v1h-3zM686 323h5v1h-5zM697 323h6v1h-6zM362 567h3v1h-3zM1130 496h3v1h-3zM1172 496h3v1h-3zM1493 496h5v1h-5zM1532 496h4v1h-4zM460 545h4v1h-4zM838 387h4v1h-4zM515 520h2v1h-2zM421 553h3v1h-3zM319 581h2v1h-2zM3 610h4v1h-4zM973 432h5v1h-5zM1095 481h3v1h-3zM1442 481h2v1h-2zM1117 490h3v1h-3zM1188 490h2v1h-2zM1463 490h5v1h-5zM1552 490h3v1h-3zM758 365h2v1h-2zM671 332h2v1h-2zM92 627h2v1h-2zM472 542h5v1h-5zM814 381h4v1h-4zM1113 488h2v1h-2zM1192 488h2v1h-2zM1457 488h2v1h-2zM1558 488h3v1h-3zM1064 475h4v1h-4zM1080 475h2v1h-2zM984 435h3v1h-3zM947 428h2v1h-2zM691 322h6v1h-6zM1273 414h3v1h-3zM75 623h10v1h-10zM365 566h7v1h-7zM1013 448h2v1h-2zM780 373h3v1h-3zM842 388h4v1h-4zM708 326h2v1h-2zM353 570h3v1h-3zM452 547h4v1h-4zM253 639h4v1h-4zM662 339h2v1h-2zM729 339h2v1h-2zM883 397h5v1h-5zM647 350h2v1h-2zM114 640h2v1h-2zM245 640h8v1h-8zM866 394h4v1h-4zM805 379h4v1h-4zM1021 453h2v1h-2zM1057 472h2v1h-2zM1269 416h2v1h-2zM403 560h2v1h-2zM968 431h5v1h-5zM85 624h2v1h-2zM791 376h4v1h-4zM999 441h2v1h-2zM493 534h2v1h-2zM783 374h4v1h-4zM632 360h2v1h-2zM348 571h5v1h-5zM1103 484h2v1h-2zM1198 484h2v1h-2zM1447 484h2v1h-2zM1570 484h2v1h-2zM760 366h3v1h-3zM1028 457h2v1h-2zM1043 466h2v1h-2zM1279 412h2v1h-2zM1363 412h2v1h-2zM120 644h2v1h-2zM205 644h8v1h-8zM232 641h13v1h-13zM1039 464h2v1h-2zM1420 464h2v1h-2zM1050 469h2v1h-2zM992 438h2v1h-2zM32 620h2v1h-2zM1054 471h3v1h-3zM1088 478h2v1h-2zM896 401h3v1h-3zM834 386h4v1h-4zM1036 462h2v1h-2zM486 538h2v1h-2zM1128 495h2v1h-2zM1175 495h2v1h-2zM1488 495h5v1h-5zM1536 495h4v1h-4zM711 328h2v1h-2zM1031 459h2v1h-2zM260 637h2v1h-2zM944 427h3v1h-3zM862 393h4v1h-4zM936 423h2v1h-2zM1288 407h2v1h-2zM1304 407h4v1h-4zM359 568h3v1h-3zM1412 458h2v1h-2zM777 372h3v1h-3zM512 522h2v1h-2zM1120 491h2v1h-2zM1185 491h3v1h-3zM1468 491h5v1h-5zM1549 491h3v1h-3zM58 622h17v1h-17zM1136 498h3v1h-3zM1164 498h4v1h-4zM1503 498h25v1h-25zM650 348h2v1h-2zM716 331h2v1h-2zM90 626h2v1h-2zM477 541h4v1h-4zM372 565h10v1h-10zM496 532h2v1h-2zM997 440h2v1h-2zM464 544h4v1h-4zM923 415h2v1h-2zM1271 415h2v1h-2zM1367 415h2v1h-2zM989 437h3v1h-3zM17 614h3v1h-3zM7 611h5v1h-5zM325 577h2v1h-2zM518 518h2v1h-2zM20 615h2v1h-2zM678 327h2v1h-2zM830 385h4v1h-4zM139 653h4v1h-4zM173 653h4v1h-4zM904 404h3v1h-3zM917 411h2v1h-2zM1281 411h2v1h-2zM1360 411h3v1h-3zM1085 477h3v1h-3zM1437 477h2v1h-2zM858 392h4v1h-4zM123 646h2v1h-2zM195 646h4v1h-4zM399 561h4v1h-4zM468 543h4v1h-4zM727 338h2v1h-2zM1052 470h2v1h-2zM1428 470h2v1h-2zM940 425h2v1h-2zM481 540h3v1h-3zM683 324h3v1h-3zM703 324h3v1h-3zM800 378h5v1h-5zM1023 454h2v1h-2zM1407 454h2v1h-2zM931 420h2v1h-2zM1261 420h2v1h-2zM1018 451h2v1h-2zM787 375h4v1h-4zM456 546h4v1h-4zM826 384h4v1h-4zM875 396h8v1h-8zM509 524h2v1h-2zM413 556h2v1h-2zM719 333h2v1h-2zM408 558h2v1h-2zM335 573h5v1h-5zM1011 447h2v1h-2zM1003 443h2v1h-2zM1005 444h2v1h-2zM854 391h4v1h-4zM27 618h3v1h-3zM721 334h2v1h-2zM667 335h2v1h-2zM938 424h2v1h-2zM622 368h2v1h-2zM765 368h3v1h-3zM674 330h2v1h-2zM714 330h2v1h-2zM99 630h2v1h-2zM268 630h2v1h-2zM987 436h2v1h-2zM327 576h3v1h-3zM657 343h2v1h-2zM111 638h2v1h-2zM257 638h3v1h-3zM1257 422h2v1h-2zM429 551h6v1h-6zM134 651h3v1h-3zM179 651h3v1h-3zM501 529h2v1h-2zM1110 487h3v1h-3zM1454 487h3v1h-3zM1561 487h3v1h-3zM340 572h8v1h-8zM410 557h3v1h-3zM108 636h2v1h-2zM770 370h3v1h-3zM850 390h4v1h-4zM795 377h5v1h-5zM933 421h2v1h-2zM1259 421h2v1h-2zM491 535h2v1h-2zM323 578h2v1h-2zM902 403h2v1h-2zM132 650h2v1h-2zM182 650h2v1h-2zM822 383h4v1h-4zM1139 499h3v1h-3zM1160 499h4v1h-4zM653 346h2v1h-2zM920 413h2v1h-2zM1276 413h3v1h-3zM498 531h2v1h-2zM636 357h2v1h-2zM768 369h2v1h-2zM644 352h2v1h-2zM333 574h2v1h-2zM125 647h2v1h-2zM191 647h4v1h-4zM394 562h5v1h-5zM1416 461h2v1h-2zM818 382h4v1h-4zM1045 467h2v1h-2zM1424 467h2v1h-2zM846 389h4v1h-4zM763 367h2v1h-2zM97 629h2v1h-2zM12 612h2v1h-2zM899 402h3v1h-3zM415 555h3v1h-3zM441 549h6v1h-6zM750 359h2v1h-2zM681 325h2v1h-2zM706 325h2v1h-2zM101 631h2v1h-2zM506 526h2v1h-2zM907 405h2v1h-2zM418 554h3v1h-3zM1047 468h3v1h-3zM330 575h3v1h-3zM356 569h3v1h-3zM25 617h2v1h-2zM893 400h3v1h-3zM405 559h3v1h-3zM891 399h2v1h-2zM1230 451h1v1h-1zM1233 447h1v2h-1zM617 373h1v1h-1zM263 635h1v1h-1zM529 507h1v1h-1zM552 472h1v2h-1zM532 503h1v1h-1zM588 413h1v1h-1zM1393 441h1v1h-1zM544 486h1v2h-1zM731 340h1v1h-1zM1205 479h1v1h-1zM1225 457h1v1h-1zM600 395h1v2h-1zM298 601h1v1h-1zM612 379h1v1h-1zM615 375h1v2h-1zM1378 425h1v1h-1zM524 512h1v2h-1zM1241 437h1v2h-1zM1430 471h1v1h-1zM548 479h1v2h-1zM317 583h1v1h-1zM517 519h1v1h-1zM564 451h1v2h-1zM103 632h1v1h-1zM1400 448h1v1h-1zM122 645h1v1h-1zM1444 482h1v1h-1zM738 347h1v1h-1zM540 492h1v2h-1zM556 465h1v2h-1zM286 613h1v1h-1zM521 516h1v1h-1zM1401 449h1v1h-1zM635 358h1v1h-1zM666 336h1v1h-1zM655 345h1v1h-1zM1415 460h1v1h-1zM301 598h1v1h-1zM584 419h1v2h-1zM670 333h1v1h-1zM659 342h1v1h-1zM560 458h1v1h-1zM596 401h1v2h-1zM1244 434h1v1h-1zM1212 472h1v1h-1zM274 625h1v1h-1zM1366 414h1v1h-1zM580 426h1v1h-1zM1194 487h1v1h-1zM603 391h1v1h-1zM1399 447h1v1h-1zM321 580h1v1h-1zM551 474h1v2h-1zM1411 457h1v1h-1zM293 606h1v1h-1zM587 414h1v2h-1zM576 432h1v2h-1zM745 354h1v1h-1zM922 414h1v1h-1zM308 591h1v1h-1zM547 481h1v2h-1zM1038 463h1v1h-1zM1228 453h1v2h-1zM1426 468h1v1h-1zM591 408h1v2h-1zM723 335h1v1h-1zM281 618h1v1h-1zM1440 479h1v1h-1zM563 453h1v1h-1zM536 498h1v2h-1zM305 594h1v1h-1zM1255 424h1v1h-1zM1410 456h1v1h-1zM1209 475h1v1h-1zM1441 480h1v1h-1zM296 603h1v1h-1zM619 371h1v1h-1zM1248 430h1v1h-1zM265 633h1v1h-1zM567 446h1v2h-1zM570 442h1v1h-1zM559 459h1v2h-1zM113 639h1v1h-1zM1388 436h1v1h-1zM1200 483h1v1h-1zM284 615h1v1h-1zM566 448h1v2h-1zM599 397h1v1h-1zM914 409h1v1h-1zM555 467h1v1h-1zM611 380h1v1h-1zM1406 453h1v1h-1zM523 514h1v1h-1zM1030 458h1v1h-1zM606 387h1v1h-1zM626 365h1v1h-1zM1216 468h1v1h-1zM272 627h1v1h-1zM1380 427h1v1h-1zM583 421h1v1h-1zM1232 449h1v1h-1zM630 362h1v1h-1zM661 340h1v1h-1zM531 504h1v2h-1zM634 359h1v1h-1zM710 327h1v1h-1zM543 488h1v1h-1zM1435 475h1v1h-1zM665 337h1v1h-1zM1387 435h1v1h-1zM1207 477h1v1h-1zM1227 455h1v1h-1zM300 599h1v1h-1zM590 410h1v1h-1zM614 377h1v1h-1zM1436 476h1v1h-1zM1204 480h1v1h-1zM579 427h1v2h-1zM1240 439h1v1h-1zM1243 435h1v1h-1zM733 342h1v1h-1zM1394 442h1v1h-1zM577 430h1v2h-1zM316 584h1v1h-1zM935 422h1v1h-1zM288 611h1v1h-1zM586 416h1v2h-1zM1235 445h1v1h-1zM1238 441h1v1h-1zM676 329h1v1h-1zM1395 443h1v1h-1zM558 461h1v2h-1zM1219 464h1v1h-1zM534 501h1v1h-1zM680 326h1v1h-1zM546 483h1v2h-1zM740 349h1v1h-1zM314 586h1v1h-1zM752 360h1v1h-1zM573 437h1v1h-1zM1214 470h1v1h-1zM562 454h1v2h-1zM307 592h1v1h-1zM554 468h1v2h-1zM602 392h1v2h-1zM569 443h1v2h-1zM526 510h1v1h-1zM582 422h1v2h-1zM1285 409h1v1h-1zM295 604h1v1h-1zM550 476h1v1h-1zM1431 472h1v1h-1zM609 382h1v2h-1zM542 489h1v2h-1zM739 348h1v1h-1zM1383 431h1v1h-1zM598 398h1v2h-1zM276 623h1v1h-1zM593 405h1v2h-1zM746 355h1v1h-1zM1211 473h1v1h-1zM565 450h1v1h-1zM1254 425h1v1h-1zM621 369h1v1h-1zM747 356h1v1h-1zM267 631h1v1h-1zM625 366h1v1h-1zM264 634h1v1h-1zM119 643h1v1h-1zM561 456h1v2h-1zM589 411h1v2h-1zM283 616h1v1h-1zM1226 456h1v1h-1zM613 378h1v1h-1zM490 536h1v1h-1zM1237 442h1v2h-1zM514 521h1v1h-1zM557 463h1v2h-1zM1218 465h1v2h-1zM1427 469h1v1h-1zM549 477h1v2h-1zM605 388h1v1h-1zM1390 438h1v1h-1zM608 384h1v1h-1zM302 597h1v1h-1zM271 628h1v1h-1zM652 347h1v1h-1zM1234 446h1v1h-1zM1382 429h1v2h-1zM553 470h1v2h-1zM533 502h1v1h-1zM1252 427h1v1h-1zM545 485h1v1h-1zM1206 478h1v1h-1zM1397 445h1v1h-1zM1229 452h1v1h-1zM919 412h1v1h-1zM616 374h1v1h-1zM753 361h1v1h-1zM1245 433h1v1h-1zM290 609h1v1h-1zM262 636h1v1h-1zM528 508h1v1h-1zM1389 437h1v1h-1zM1035 461h1v1h-1zM1221 462h1v1h-1zM1423 466h1v1h-1zM318 582h1v1h-1zM278 621h1v1h-1zM1396 444h1v1h-1zM1375 421h1v1h-1zM734 343h1v1h-1zM110 637h1v1h-1zM572 438h1v2h-1zM1381 428h1v1h-1zM735 344h1v1h-1zM520 517h1v1h-1zM1213 471h1v1h-1zM1422 465h1v1h-1zM646 351h1v1h-1zM741 350h1v1h-1zM592 407h1v1h-1zM604 389h1v2h-1zM742 351h1v1h-1zM911 407h1v1h-1zM1224 458h1v1h-1zM1373 419h1v1h-1zM106 634h1v1h-1zM508 525h1v1h-1zM1374 420h1v1h-1zM500 530h1v1h-1zM568 445h1v1h-1zM285 614h1v1h-1zM309 590h1v1h-1zM749 358h1v1h-1zM539 494h1v1h-1zM1418 462h1v1h-1zM313 587h1v1h-1zM638 356h1v1h-1zM669 334h1v1h-1zM595 403h1v1h-1zM575 434h1v1h-1zM607 385h1v2h-1zM673 331h1v1h-1zM1256 423h1v1h-1zM273 626h1v1h-1zM297 602h1v1h-1zM266 632h1v1h-1zM571 440h1v2h-1zM1208 476h1v1h-1zM1197 485h1v1h-1zM748 357h1v1h-1zM1392 440h1v1h-1zM1384 432h1v1h-1zM289 610h1v1h-1zM1369 416h1v1h-1zM304 595h1v1h-1zM1370 417h1v1h-1zM1236 444h1v1h-1zM631 361h1v1h-1zM677 328h1v1h-1zM1414 459h1v1h-1zM1247 431h1v1h-1zM535 500h1v1h-1zM1376 422h1v2h-1zM277 622h1v1h-1zM1231 450h1v1h-1zM925 416h1v1h-1zM1251 428h1v1h-1zM629 363h1v1h-1zM1377 424h1v1h-1zM618 372h1v1h-1zM292 607h1v1h-1zM530 506h1v1h-1zM736 345h1v1h-1zM1223 459h1v2h-1zM527 509h1v1h-1zM726 337h1v1h-1zM1015 449h1v1h-1zM737 346h1v1h-1zM578 429h1v1h-1zM1239 440h1v1h-1zM280 619h1v1h-1zM1220 463h1v1h-1zM538 495h1v2h-1zM755 363h1v1h-1zM610 381h1v1h-1zM315 585h1v1h-1zM1391 439h1v1h-1zM744 353h1v1h-1zM116 641h1v1h-1zM574 435h1v2h-1zM656 344h1v1h-1zM1215 469h1v1h-1zM511 523h1v1h-1zM1365 413h1v1h-1zM299 600h1v1h-1zM660 341h1v1h-1zM1439 478h1v1h-1zM1398 446h1v1h-1zM594 404h1v1h-1zM1409 455h1v1h-1zM649 349h1v1h-1zM1242 436h1v1h-1zM754 362h1v1h-1zM641 354h1v1h-1zM1203 481h1v1h-1zM601 394h1v1h-1zM718 332h1v1h-1zM287 612h1v1h-1zM322 579h1v1h-1zM522 515h1v1h-1zM525 511h1v1h-1zM743 352h1v1h-1zM713 329h1v1h-1zM585 418h1v1h-1zM503 528h1v1h-1zM495 533h1v1h-1zM664 338h1v1h-1zM306 593h1v1h-1zM275 624h1v1h-1zM581 424h1v2h-1zM1210 474h1v1h-1zM303 596h1v1h-1zM620 370h1v1h-1zM294 605h1v1h-1zM1025 455h1v1h-1zM541 491h1v1h-1zM1246 432h1v1h-1zM1404 451h1v1h-1zM107 635h1v1h-1zM1405 452h1v1h-1zM1020 452h1v1h-1zM291 608h1v1h-1zM1419 463h1v1h-1zM732 341h1v1h-1zM282 617h1v1h-1zM1222 461h1v1h-1zM597 400h1v1h-1zM1379 426h1v1h-1zM1385 433h1v1h-1zM1217 467h1v1h-1zM1434 474h1v1h-1zM1386 434h1v1h-1zM310 589h1v1h-1zM279 620h1v1h-1zM624 367h1v1h-1zM537 497h1v1h-1zM1253 426h1v1h-1zM930 419h1v1h-1zM270 629h1v1h-1z"/>
<path fill="#0000ff" shape-rendering="crispEdges" d="M935 508h3v1h-3zM1359 508h3v1h-3zM149 716h3v1h-3zM154 718h7v1h-7zM181 718h3v1h-3zM209 718h6v1h-6zM1200 572h2v1h-2zM1458 572h2v1h-2zM1504 572h2v1h-2zM1528 572h3v1h-3zM1535 572h5v1h-5zM942 510h4v1h-4zM1365 510h4v1h-4zM1074 543h2v1h-2zM927 504h2v1h-2zM1311 504h6v1h-6zM540 613h4v1h-4zM1508 570h17v1h-17zM1544 570h8v1h-8zM1564 570h8v1h-8zM439 593h3v1h-3zM1056 541h2v1h-2zM456 599h15v1h-15zM515 599h5v1h-5zM1025 521h4v1h-4zM751 441h6v1h-6zM799 441h2v1h-2zM839 441h3v1h-3zM33 681h2v1h-2zM1237 574h2v1h-2zM1500 574h2v1h-2zM14 662h3v1h-3zM1029 522h8v1h-8zM339 638h4v1h-4zM957 512h18v1h-18zM1372 512h2v1h-2zM276 704h2v1h-2zM394 620h3v1h-3zM556 620h2v1h-2zM767 435h2v1h-2zM787 435h2v1h-2zM858 435h27v1h-27zM771 433h14v1h-14zM1084 549h2v1h-2zM1506 571h2v1h-2zM1525 571h3v1h-3zM1540 571h4v1h-4zM233 722h20v1h-20zM1132 557h3v1h-3zM1168 557h2v1h-2zM1403 530h3v1h-3zM152 717h2v1h-2zM184 717h25v1h-25zM1190 566h2v1h-2zM807 444h6v1h-6zM828 444h4v1h-4zM1137 555h3v1h-3zM1164 555h2v1h-2zM1129 558h3v1h-3zM1170 558h3v1h-3zM1443 558h2v1h-2zM483 603h2v1h-2zM508 603h2v1h-2zM530 603h2v1h-2zM1192 567h2v1h-2zM1099 563h2v1h-2zM1113 563h3v1h-3zM1183 563h2v1h-2zM1204 575h2v1h-2zM1235 575h2v1h-2zM1498 575h2v1h-2zM946 511h11v1h-11zM1369 511h3v1h-3zM933 507h2v1h-2zM1328 507h8v1h-8zM1355 507h4v1h-4zM228 721h5v1h-5zM253 721h4v1h-4zM1239 573h2v1h-2zM1502 573h2v1h-2zM1531 573h4v1h-4zM115 712h2v1h-2zM139 712h3v1h-3zM1125 559h4v1h-4zM1173 559h2v1h-2zM1290 500h3v1h-3zM1302 500h2v1h-2zM741 436h2v1h-2zM765 436h2v1h-2zM789 436h2v1h-2zM850 436h8v1h-8zM1208 578h2v1h-2zM1227 578h3v1h-3zM1465 578h3v1h-3zM1486 578h6v1h-6zM1061 544h2v1h-2zM1071 544h3v1h-3zM1076 544h2v1h-2zM745 438h2v1h-2zM761 438h2v1h-2zM793 438h2v1h-2zM846 438h2v1h-2zM1007 514h7v1h-7zM749 440h2v1h-2zM757 440h2v1h-2zM797 440h2v1h-2zM842 440h2v1h-2zM1021 519h2v1h-2zM1279 519h2v1h-2zM1014 515h2v1h-2zM1196 569h2v1h-2zM1552 569h12v1h-12zM697 395h5v1h-5zM1211 580h4v1h-4zM1220 580h3v1h-3zM1473 580h6v1h-6zM97 689h2v1h-2zM1293 499h4v1h-4zM1300 499h2v1h-2zM1103 565h5v1h-5zM1188 565h2v1h-2zM423 590h5v1h-5zM433 590h2v1h-2zM544 612h4v1h-4zM389 621h5v1h-5zM558 621h4v1h-4zM117 713h3v1h-3zM137 713h2v1h-2zM142 713h2v1h-2zM1095 561h2v1h-2zM1119 561h3v1h-3zM1178 561h2v1h-2zM931 506h2v1h-2zM1322 506h6v1h-6zM1336 506h10v1h-10zM1352 506h3v1h-3zM485 604h2v1h-2zM490 607h3v1h-3zM502 607h2v1h-2zM1018 517h2v1h-2zM743 437h2v1h-2zM763 437h2v1h-2zM791 437h2v1h-2zM848 437h2v1h-2zM1097 562h2v1h-2zM1116 562h3v1h-3zM1180 562h3v1h-3zM801 442h2v1h-2zM835 442h4v1h-4zM975 513h32v1h-32zM925 503h2v1h-2zM1308 503h3v1h-3zM813 445h6v1h-6zM824 445h4v1h-4zM79 685h7v1h-7zM702 396h2v1h-2zM505 605h2v1h-2zM738 434h2v1h-2zM769 434h2v1h-2zM785 434h2v1h-2zM1304 501h2v1h-2zM379 622h10v1h-10zM562 622h2v1h-2zM493 608h4v1h-4zM500 608h2v1h-2zM578 608h2v1h-2zM1418 534h2v1h-2zM1101 564h2v1h-2zM1108 564h5v1h-5zM1185 564h3v1h-3zM171 720h6v1h-6zM222 720h6v1h-6zM257 720h3v1h-3zM1016 516h2v1h-2zM367 625h2v1h-2zM1145 552h15v1h-15zM803 443h4v1h-4zM832 443h3v1h-3zM488 606h2v1h-2zM350 635h2v1h-2zM428 589h5v1h-5zM161 719h10v1h-10zM177 719h4v1h-4zM215 719h7v1h-7zM260 719h2v1h-2zM819 446h5v1h-5zM8 659h2v1h-2zM447 596h2v1h-2zM1297 498h3v1h-3zM691 394h6v1h-6zM39 684h40v1h-40zM574 611h2v1h-2zM419 592h2v1h-2zM437 592h2v1h-2zM1306 502h2v1h-2zM123 715h12v1h-12zM147 715h2v1h-2zM1223 579h4v1h-4zM1468 579h5v1h-5zM1479 579h7v1h-7zM361 628h2v1h-2zM1233 576h2v1h-2zM1496 576h2v1h-2zM1392 531h2v1h-2zM1400 531h3v1h-3zM1414 531h2v1h-2zM1409 528h2v1h-2zM471 600h4v1h-4zM513 600h2v1h-2zM520 600h6v1h-6zM938 509h4v1h-4zM1362 509h3v1h-3zM929 505h2v1h-2zM1317 505h5v1h-5zM1346 505h6v1h-6zM4 657h2v1h-2zM1093 560h2v1h-2zM1122 560h3v1h-3zM1175 560h3v1h-3zM1395 533h2v1h-2zM1037 523h4v1h-4zM1023 520h2v1h-2zM1276 520h3v1h-3zM6 658h2v1h-2zM733 430h2v1h-2zM1406 529h3v1h-3zM1411 529h2v1h-2zM1065 546h2v1h-2zM1079 546h2v1h-2zM371 623h8v1h-8zM1397 532h3v1h-3zM1143 553h2v1h-2zM1160 553h2v1h-2zM346 636h4v1h-4zM335 639h4v1h-4zM704 397h2v1h-2zM475 601h4v1h-4zM526 601h2v1h-2zM479 602h4v1h-4zM510 602h2v1h-2zM528 602h2v1h-2zM92 687h4v1h-4zM1058 542h2v1h-2zM35 682h2v1h-2zM416 594h2v1h-2zM442 594h2v1h-2zM37 683h2v1h-2zM449 597h2v1h-2zM451 598h5v1h-5zM1230 577h3v1h-3zM1492 577h4v1h-4zM1194 568h2v1h-2zM551 616h2v1h-2zM1043 526h2v1h-2zM120 714h3v1h-3zM135 714h2v1h-2zM144 714h3v1h-3zM707 399h2v1h-2zM1063 545h2v1h-2zM1067 545h4v1h-4zM86 686h6v1h-6zM709 400h2v1h-2zM365 626h2v1h-2zM747 439h2v1h-2zM759 439h2v1h-2zM795 439h2v1h-2zM844 439h2v1h-2zM888 439h2v1h-2zM1135 556h2v1h-2zM1166 556h2v1h-2zM1215 581h5v1h-5zM355 632h2v1h-2zM1387 527h2v1h-2zM295 692h2v1h-2zM293 693h2v1h-2zM1081 547h2v1h-2zM327 645h2v1h-2zM287 696h2v1h-2zM343 637h3v1h-3zM333 640h2v1h-2zM363 627h2v1h-2zM289 695h2v1h-2zM1140 554h3v1h-3zM1162 554h2v1h-2zM10 660h2v1h-2zM497 609h3v1h-3zM17 663h4v1h-4zM285 697h2v1h-2zM21 664h2v1h-2zM414 595h2v1h-2zM444 595h3v1h-3zM283 698h2v1h-2zM421 591h2v1h-2zM435 591h2v1h-2zM31 680h2v1h-2zM291 694h2v1h-2zM359 629h2v1h-2zM12 661h2v1h-2zM352 634h2v1h-2zM369 624h2v1h-2zM264 716h1v1h-1zM1428 543h1v1h-1zM680 410h1v2h-1zM909 471h1v2h-1zM1060 543h1v1h-1zM400 613h1v1h-1zM1417 533h1v1h-1zM323 649h1v1h-1zM647 489h1v2h-1zM570 615h1v1h-1zM910 473h1v3h-1zM590 593h1v2h-1zM623 541h1v2h-1zM614 559h1v2h-1zM639 504h1v2h-1zM725 417h1v2h-1zM891 441h1v1h-1zM1241 572h1v1h-1zM1288 503h1v2h-1zM304 681h1v2h-1zM507 604h1v1h-1zM606 573h1v2h-1zM307 677h1v2h-1zM630 522h1v2h-1zM687 399h1v2h-1zM1269 527h1v1h-1zM1435 550h1v1h-1zM676 418h1v2h-1zM667 447h1v3h-1zM26 672h1v2h-1zM916 488h1v2h-1zM924 501h1v2h-1zM1436 551h1v1h-1zM643 496h1v2h-1zM311 669h1v2h-1zM280 701h1v1h-1zM1261 537h1v1h-1zM1264 533h1v1h-1zM1284 511h1v2h-1zM598 583h1v1h-1zM1390 529h1v1h-1zM1199 571h1v1h-1zM1041 524h1v1h-1zM714 404h1v1h-1zM671 433h1v4h-1zM1442 557h1v1h-1zM1245 565h1v1h-1zM1379 518h1v2h-1zM651 482h1v2h-1zM1413 530h1v1h-1zM1086 550h1v1h-1zM675 420h1v2h-1zM1089 554h1v2h-1zM618 551h1v2h-1zM319 655h1v2h-1zM1416 532h1v1h-1zM583 603h1v1h-1zM298 689h1v2h-1zM610 566h1v2h-1zM728 423h1v1h-1zM634 514h1v2h-1zM906 464h1v3h-1zM1283 513h1v2h-1zM1249 557h1v2h-1zM655 474h1v2h-1zM721 411h1v1h-1zM724 416h1v1h-1zM732 429h1v1h-1zM268 712h1v1h-1zM567 618h1v1h-1zM735 431h1v1h-1zM674 422h1v3h-1zM315 661h1v2h-1zM923 500h1v1h-1zM25 670h1v2h-1zM638 506h1v2h-1zM22 665h1v1h-1zM548 613h1v1h-1zM1453 567h1v1h-1zM913 480h1v3h-1zM679 412h1v2h-1zM622 543h1v2h-1zM408 602h1v1h-1zM646 491h1v2h-1zM586 599h1v1h-1zM887 438h1v1h-1zM613 561h1v2h-1zM670 437h1v4h-1zM625 532h1v5h-1zM1210 579h1v1h-1zM727 421h1v2h-1zM271 709h1v1h-1zM629 524h1v2h-1zM403 608h1v1h-1zM3 656h1v1h-1zM1078 545h1v1h-1zM650 484h1v2h-1zM731 428h1v1h-1zM1385 525h1v1h-1zM642 498h1v2h-1zM28 676h1v1h-1zM609 568h1v2h-1zM310 671h1v2h-1zM1260 538h1v2h-1zM1386 526h1v1h-1zM633 516h1v2h-1zM29 677h1v1h-1zM690 395h1v2h-1zM357 631h1v1h-1zM104 697h1v2h-1zM399 614h1v2h-1zM411 598h1v1h-1zM1423 538h1v1h-1zM1255 545h1v2h-1zM661 462h1v2h-1zM1287 505h1v2h-1zM532 604h1v1h-1zM306 679h1v1h-1zM1088 553h1v1h-1zM322 650h1v2h-1zM1248 559h1v2h-1zM1271 525h1v1h-1zM654 476h1v2h-1zM301 685h1v2h-1zM589 595h1v1h-1zM666 450h1v2h-1zM1378 517h1v1h-1zM1092 558h1v2h-1zM539 612h1v1h-1zM1430 545h1v1h-1zM908 469h1v2h-1zM669 441h1v4h-1zM282 699h1v1h-1zM637 508h1v2h-1zM1046 528h1v1h-1zM1460 573h1v1h-1zM24 668h1v2h-1zM686 401h1v1h-1zM1047 529h1v1h-1zM99 690h1v1h-1zM1244 566h1v2h-1zM107 702h1v2h-1zM894 444h1v2h-1zM915 485h1v3h-1zM665 452h1v3h-1zM617 553h1v2h-1zM905 462h1v2h-1zM597 584h1v2h-1zM100 691h1v1h-1zM266 714h1v1h-1zM1449 563h1v1h-1zM325 647h1v1h-1zM1438 553h1v1h-1zM715 405h1v1h-1zM592 591h1v1h-1zM402 609h1v2h-1zM649 486h1v2h-1zM329 644h1v1h-1zM569 616h1v1h-1zM1087 551h1v2h-1zM673 425h1v4h-1zM716 406h1v1h-1zM641 500h1v2h-1zM605 575h1v1h-1zM1456 570h1v1h-1zM730 426h1v2h-1zM1091 557h1v1h-1zM554 618h1v1h-1zM632 518h1v2h-1zM907 467h1v2h-1zM678 414h1v2h-1zM621 545h1v2h-1zM723 414h1v2h-1zM660 464h1v2h-1zM1448 562h1v1h-1zM398 616h1v2h-1zM600 581h1v1h-1zM645 493h1v2h-1zM410 599h1v2h-1zM612 563h1v2h-1zM103 695h1v2h-1zM1263 534h1v1h-1zM624 537h1v4h-1zM106 700h1v2h-1zM893 443h1v1h-1zM914 483h1v2h-1zM904 460h1v2h-1zM273 707h1v1h-1zM737 433h1v1h-1zM628 526h1v2h-1zM585 600h1v2h-1zM1437 552h1v1h-1zM656 472h1v2h-1zM1455 569h1v1h-1zM668 445h1v2h-1zM576 610h1v1h-1zM1282 515h1v2h-1zM553 617h1v1h-1zM1042 525h1v1h-1zM580 607h1v1h-1zM1380 520h1v1h-1zM270 710h1v1h-1zM1381 521h1v1h-1zM726 419h1v2h-1zM96 688h1v1h-1zM729 424h1v2h-1zM616 555h1v2h-1zM1254 547h1v2h-1zM689 397h1v1h-1zM608 570h1v1h-1zM1266 530h1v1h-1zM1049 531h1v2h-1zM722 412h1v2h-1zM896 447h1v2h-1zM1247 561h1v2h-1zM30 678h1v2h-1zM1050 533h1v1h-1zM102 693h1v2h-1zM672 429h1v4h-1zM1286 507h1v2h-1zM1083 548h1v1h-1zM900 453h1v2h-1zM23 666h1v2h-1zM549 614h1v1h-1zM1391 530h1v1h-1zM405 605h1v2h-1zM636 510h1v2h-1zM550 615h1v1h-1zM1425 540h1v1h-1zM297 691h1v1h-1zM1090 556h1v1h-1zM300 687h1v1h-1zM309 673h1v2h-1zM627 528h1v2h-1zM1262 535h1v2h-1zM413 596h1v1h-1zM1257 542h1v2h-1zM895 446h1v1h-1zM331 642h1v1h-1zM903 458h1v2h-1zM265 715h1v1h-1zM1281 517h1v2h-1zM640 502h1v2h-1zM564 621h1v1h-1zM101 692h1v1h-1zM899 452h1v1h-1zM324 648h1v1h-1zM711 401h1v1h-1zM588 596h1v1h-1zM110 706h1v1h-1zM303 683h1v1h-1zM1253 549h1v2h-1zM659 466h1v2h-1zM615 557h1v2h-1zM664 455h1v2h-1zM599 582h1v1h-1zM1461 574h1v1h-1zM611 565h1v1h-1zM1273 523h1v1h-1zM1432 547h1v1h-1zM401 611h1v2h-1zM105 699h1v1h-1zM1450 564h1v1h-1zM582 604h1v2h-1zM1462 575h1v1h-1zM108 704h1v1h-1zM571 614h1v1h-1zM663 457h1v3h-1zM591 592h1v1h-1zM594 588h1v1h-1zM1424 539h1v1h-1zM109 705h1v1h-1zM533 605h1v1h-1zM631 520h1v2h-1zM1207 577h1v1h-1zM607 571h1v2h-1zM1439 554h1v1h-1zM534 606h1v1h-1zM314 663h1v2h-1zM602 578h1v2h-1zM706 398h1v1h-1zM1431 546h1v1h-1zM717 407h1v1h-1zM683 405h1v1h-1zM1265 531h1v2h-1zM1285 509h1v2h-1zM275 705h1v1h-1zM718 408h1v1h-1zM1048 530h1v1h-1zM1383 523h1v1h-1zM1051 534h1v2h-1zM279 702h1v1h-1zM898 450h1v2h-1zM1206 576h1v1h-1zM1252 551h1v2h-1zM658 468h1v2h-1zM1052 536h1v1h-1zM635 512h1v2h-1zM272 708h1v1h-1zM902 456h1v2h-1zM487 605h1v1h-1zM626 530h1v2h-1zM263 717h1v1h-1zM912 478h1v2h-1zM1268 528h1v1h-1zM1457 571h1v1h-1zM555 619h1v1h-1zM566 619h1v1h-1zM318 657h1v1h-1zM920 496h1v1h-1zM653 478h1v2h-1zM897 449h1v1h-1zM407 603h1v1h-1zM111 707h1v2h-1zM1375 514h1v1h-1zM112 709h1v1h-1zM682 406h1v2h-1zM536 608h1v2h-1zM1243 568h1v2h-1zM1275 521h1v1h-1zM1382 522h1v1h-1zM1256 544h1v1h-1zM1202 573h1v1h-1zM1259 540h1v1h-1zM573 612h1v1h-1zM662 460h1v2h-1zM267 713h1v1h-1zM577 609h1v1h-1zM326 646h1v1h-1zM919 494h1v2h-1zM1272 524h1v1h-1zM1446 560h1v1h-1zM1054 538h1v2h-1zM1420 535h1v1h-1zM302 684h1v1h-1zM901 455h1v1h-1zM1463 576h1v1h-1zM1055 540h1v1h-1zM1374 513h1v1h-1zM1464 577h1v1h-1zM620 547h1v2h-1zM1426 541h1v1h-1zM712 402h1v1h-1zM1020 518h1v1h-1zM911 476h1v2h-1zM601 580h1v1h-1zM1198 570h1v1h-1zM281 700h1v1h-1zM1427 542h1v1h-1zM713 403h1v1h-1zM1251 553h1v2h-1zM657 470h1v2h-1zM317 658h1v2h-1zM274 706h1v1h-1zM593 589h1v2h-1zM596 586h1v1h-1zM719 409h1v1h-1zM1445 559h1v1h-1zM330 643h1v1h-1zM512 601h1v1h-1zM1434 549h1v1h-1zM918 492h1v2h-1zM720 410h1v1h-1zM321 652h1v1h-1zM504 606h1v1h-1zM890 440h1v1h-1zM313 665h1v2h-1zM1451 565h1v1h-1zM305 680h1v1h-1zM648 488h1v1h-1zM262 718h1v1h-1zM685 402h1v2h-1zM1452 566h1v1h-1zM1389 528h1v1h-1zM604 576h1v1h-1zM677 416h1v2h-1zM397 618h1v2h-1zM1267 529h1v1h-1zM1246 563h1v2h-1zM535 607h1v1h-1zM565 620h1v1h-1zM886 437h1v1h-1zM644 495h1v1h-1zM278 703h1v1h-1zM921 497h1v2h-1zM1433 548h1v1h-1zM581 606h1v1h-1zM584 602h1v1h-1zM1242 570h1v2h-1zM922 499h1v1h-1zM308 675h1v2h-1zM1270 526h1v1h-1zM418 593h1v1h-1zM1053 537h1v1h-1zM269 711h1v1h-1zM568 617h1v1h-1zM1250 555h1v2h-1zM1440 555h1v1h-1zM1441 556h1v1h-1zM114 711h1v1h-1zM885 436h1v1h-1zM652 480h1v2h-1zM320 653h1v2h-1zM409 601h1v1h-1zM587 597h1v2h-1zM312 667h1v2h-1zM1384 524h1v1h-1zM619 549h1v2h-1zM27 674h1v2h-1zM406 604h1v1h-1zM917 490h1v2h-1zM681 408h1v2h-1zM404 607h1v1h-1zM1421 536h1v1h-1zM1289 501h1v2h-1zM1422 537h1v1h-1zM688 398h1v1h-1zM332 641h1v1h-1zM1376 515h1v1h-1zM1258 541h1v1h-1zM113 710h1v1h-1zM740 435h1v1h-1zM537 610h1v1h-1zM1274 522h1v1h-1zM412 597h1v1h-1zM1377 516h1v1h-1zM538 611h1v1h-1zM1429 544h1v1h-1zM1394 532h1v1h-1zM1203 574h1v1h-1zM1045 527h1v1h-1zM299 688h1v1h-1zM1447 561h1v1h-1zM354 633h1v1h-1zM358 630h1v1h-1zM684 404h1v1h-1zM892 442h1v1h-1zM603 577h1v1h-1zM736 432h1v1h-1zM316 660h1v1h-1zM1454 568h1v1h-1zM572 613h1v1h-1zM595 587h1v1h-1z"/>
<g shape-rendering="crispEdges" clip-path="url(#cp)">
<rect x="3" y="648" width="1" height="30" fill="#0000ff"/>
<rect x="1" y="660" width="5" height="10" fill="#0000ff"/>
<rect x="2" y="661" width="3" height="8" fill="#ff0000"/>
<rect x="11" y="645" width="1" height="30" fill="#0000ff"/>
<rect x="9" y="650" width="5" height="20" fill="#0000ff"/>
<rect x="10" y="651" width="3" height="18" fill="#32cd32"/>
<rect x="19" y="640" width="1" height="15" fill="#0000ff"/>
<rect x="17" y="643" width="5" height="7" fill="#0000ff"/>
<rect x="18" y="644" width="3" height="5" fill="#32cd32"/>
<rect x="27" y="635" width="1" height="76" fill="#0000ff"/>
<rect x="25" y="643" width="5" height="49" fill="#0000ff"/>
<rect x="26" y="644" width="3" height="47" fill="#ff0000"/>
<rect x="35" y="652" width="1" height="49" fill="#0000ff"/>
<rect x="33" y="656" width="5" height="36" fill="#0000ff"/>
<rect x="34" y="657" width="3" height="34" fill="#32cd32"/>
<rect x="43" y="636" width="1" height="31" fill="#0000ff"/>
<rect x="41" y="641" width="5" height="15" fill="#0000ff"/>
<rect x="42" y="642" width="3" height="13" fill="#32cd32"/>
<rect x="51" y="612" width="1" height="41" fill="#0000ff"/>
<rect x="49" y="613" width="5" height="27" fill="#0000ff"/>
<rect x="50" y="614" width="3" height="25" fill="#32cd32"/>
<rect x="59" y="577" width="1" height="45" fill="#0000ff"/>
<rect x="57" y="604" width="5" height="9" fill="#0000ff"/>
<rect x="58" y="605" width="3" height="7" fill="#32cd32"/>
<rect x="67" y="597" width="1" height="14" fill="#0000ff"/>
<rect x="65" y="604" width="5" height="1" fill="#0000ff"/>
<rect x="75" y="597" width="1" height="33" fill="#0000ff"/>
<rect x="73" y="604" width="5" height="19" fill="#0000ff"/>
<rect x="74" y="605" width="3" height="17" fill="#ff0000"/>
<rect x="83" y="608" width="1" height="23" fill="#0000ff"/>
<rect x="81" y="623" width="5" height="1" fill="#0000ff"/>
<rect x="91" y="610" width="1" height="46" fill="#0000ff"/>
<rect x="89" y="622" width="5" height="16" fill="#0000ff"/>
<rect x="90" y="623" width="3" height="14" fill="#ff0000"/>
<rect x="99" y="632" width="1" height="36" fill="#0000ff"/>
<rect x="97" y="637" width="5" height="22" fill="#0000ff"/>
<rect x="98" y="638" width="3" height="20" fill="#ff0000"/>
<rect x="107" y="650" width="1" height="73" fill="#0000ff"/>
<rect x="105" y="658" width="5" height="49" fill="#0000ff"/>
<rect x="106" y="659" width="3" height="47" fill="#ff0000"/>
<rect x="115" y="691" width="1" height="24" fill="#0000ff"/>
<rect x="113" y="700" width="5" height="6" fill="#0000ff"/>
<rect x="114" y="701" width="3" height="4" fill="#32cd32"/>
<rect x="123" y="677" width="1" height="46" fill="#0000ff"/>
<rect x="121" y="694" width="5" height="13" fill="#0000ff"/>
<rect x="122" y="695" width="3" height="11" fill="#32cd32"/>
<rect x="131" y="671" width="1" height="40" fill="#0000ff"/>
<rect x="129" y="672" width="5" height="23" fill="#0000ff"/>
<rect x="130" y="673" width="3" height="21" fill="#32cd32"/>
<rect x="139" y="655" width="1" height="19" fill="#0000ff"/>
<rect x="137" y="659" width="5" height="14" fill="#0000ff"/>
<rect x="138" y="660" width="3" height="12" fill="#32cd32"/>
<rect x="147" y="659" width="1" height="48" fill="#0000ff"/>
<rect x="145" y="659" width="5" height="14" fill="#0000ff"/>
<rect x="146" y="660" width="3" height="12" fill="#ff0000"/>
<rect x="155" y="661" width="1" height="45" fill="#0000ff"/>
<rect x="153" y="672" width="5" height="26" fill="#0000ff"/>
<rect x="154" y="673" width="3" height="24" fill="#ff0000"/>
<rect x="163" y="649" width="1" height="55" fill="#0000ff"/>
<rect x="161" y="667" width="5" height="31" fill="#0000ff"/>
<rect x="162" y="668" width="3" height="29" fill="#32cd32"/>
<rect x="171" y="615" width="1" height="50" fill="#0000ff"/>
<rect x="169" y="627" width="5" height="14" fill="#0000ff"/>
<rect x="170" y="628" width="3" height="12" fill="#32cd32"/>
<rect x="179" y="604" width="1" height="28" fill="#0000ff"/>
<rect x="177" y="616" width="5" height="12" fill="#0000ff"/>
<rect x="178" y="617" width="3" height="10" fill="#32cd32"/>
<rect x="187" y="589" width="1" height="32" fill="#0000ff"/>
<rect x="185" y="595" width="5" height="22" fill="#0000ff"/>
<rect x="186" y="596" width="3" height="20" fill="#32cd32"/>
<rect x="195" y="587" width="1" height="26" fill="#0000ff"/>
<rect x="193" y="596" width="5" height="10" fill="#0000ff"/>
<rect x="194" y="597" width="3" height="8" fill="#ff0000"/>
<rect x="203" y="595" width="1" height="28" fill="#0000ff"/>
<rect x="201" y="605" width="5" height="11" fill="#0000ff"/>
<rect x="202" y="606" width="3" height="9" fill="#ff0000"/>
<rect x="211" y="596" width="1" height="23" fill="#0000ff"/>
<rect x="209" y="597" width="5" height="19" fill="#0000ff"/>
<rect x="210" y="598" width="3" height="17" fill="#32cd32"/>
<rect x="219" y="563" width="1" height="51" fill="#0000ff"/>
<rect x="217" y="579" width="5" height="35" fill="#0000ff"/>
<rect x="218" y="580" width="3" height="33" fill="#32cd32"/>
<rect x="227" y="573" width="1" height="30" fill="#0000ff"/>
<rect x="225" y="580" width="5" height="19" fill="#0000ff"/>
<rect x="226" y="581" width="3" height="17" fill="#ff0000"/>
<rect x="235" y="568" width="1" height="35" fill="#0000ff"/>
<rect x="233" y="579" width="5" height="20" fill="#0000ff"/>
<rect x="234" y="580" width="3" height="18" fill="#32cd32"/>
<rect x="243" y="576" width="1" height="68" fill="#0000ff"/>
<rect x="241" y="579" width="5" height="53" fill="#0000ff"/>
<rect x="242" y="580" width="3" height="51" fill="#ff0000"/>
<rect x="251" y="598" width="1" height="41" fill="#0000ff"/>
<rect x="249" y="604" width="5" height="28" fill="#0000ff"/>
<rect x="250" y="605" width="3" height="26" fill="#32cd32"/>
<rect x="259" y="595" width="1" height="12" fill="#0000ff"/>
<rect x="257" y="598" width="5" height="6" fill="#0000ff"/>
<rect x="258" y="599" width="3" height="4" fill="#32cd32"/>
<rect x="267" y="577" width="1" height="30" fill="#0000ff"/>
<rect x="265" y="580" width="5" height="19" fill="#0000ff"/>
<rect x="266" y="581" width="3" height="17" fill="#32cd32"/>
<rect x="275" y="535" width="1" height="54" fill="#0000ff"/>
<rect x="273" y="549" width="5" height="32" fill="#0000ff"/>
<rect x="274" y="550" width="3" height="30" fill="#32cd32"/>
<rect x="283" y="524" width="1" height="41" fill="#0000ff"/>
<rect x="281" y="530" width="5" height="20" fill="#0000ff"/>
<rect x="282" y="531" width="3" height="18" fill="#32cd32"/>
<rect x="291" y="516" width="1" height="28" fill="#0000ff"/>
<rect x="289" y="521" width="5" height="10" fill="#0000ff"/>
<rect x="290" y="522" width="3" height="8" fill="#32cd32"/>
<rect x="299" y="511" width="1" height="53" fill="#0000ff"/>
<rect x="297" y="521" width="5" height="34" fill="#0000ff"/>
<rect x="298" y="522" width="3" height="32" fill="#ff0000"/>
<rect x="307" y="528" width="1" height="29" fill="#0000ff"/>
<rect x="305" y="537" width="5" height="18" fill="#0000ff"/>
<rect x="306" y="538" width="3" height="16" fill="#32cd32"/>
<rect x="315" y="514" width="1" height="32" fill="#0000ff"/>
<rect x="313" y="539" width="5" height="3" fill="#0000ff"/>
<rect x="314" y="540" width="3" height="1" fill="#ff0000"/>
<rect x="323" y="515" width="1" height="37" fill="#0000ff"/>
<rect x="321" y="520" width="5" height="21" fill="#0000ff"/>
<rect x="322" y="521" width="3" height="19" fill="#32cd32"/>
<rect x="331" y="514" width="1" height="67" fill="#0000ff"/>
<rect x="329" y="520" width="5" height="41" fill="#0000ff"/>
<rect x="330" y="521" width="3" height="39" fill="#ff0000"/>
<rect x="339" y="538" width="1" height="27" fill="#0000ff"/>
<rect x="337" y="549" width="5" height="12" fill="#0000ff"/>
<rect x="338" y="550" width="3" height="10" fill="#32cd32"/>
<rect x="347" y="546" width="1" height="53" fill="#0000ff"/>
<rect x="345" y="549" width="5" height="32" fill="#0000ff"/>
<rect x="346" y="550" width="3" height="30" fill="#ff0000"/>
<rect x="355" y="555" width="1" height="31" fill="#0000ff"/>
<rect x="353" y="566" width="5" height="15" fill="#0000ff"/>
<rect x="354" y="567" width="3" height="13" fill="#32cd32"/>
<rect x="363" y="540" width="1" height="30" fill="#0000ff"/>
<rect x="361" y="562" width="5" height="1" fill="#0000ff"/>
<rect x="371" y="556" width="1" height="26" fill="#0000ff"/>
<rect x="369" y="562" width="5" height="4" fill="#0000ff"/>
<rect x="370" y="563" width="3" height="2" fill="#ff0000"/>
<rect x="379" y="541" width="1" height="29" fill="#0000ff"/>
<rect x="377" y="545" width="5" height="21" fill="#0000ff"/>
<rect x="378" y="546" width="3" height="19" fill="#32cd32"/>
<rect x="387" y="538" width="1" height="110" fill="#0000ff"/>
<rect x="385" y="545" width="5" height="58" fill="#0000ff"/>
<rect x="386" y="546" width="3" height="56" fill="#ff0000"/>
<rect x="395" y="540" width="1" height="74" fill="#0000ff"/>
<rect x="393" y="549" width="5" height="54" fill="#0000ff"/>
<rect x="394" y="550" width="3" height="52" fill="#32cd32"/>
<rect x="403" y="547" width="1" height="17" fill="#0000ff"/>
<rect x="401" y="549" width="5" height="14" fill="#0000ff"/>
<rect x="402" y="550" width="3" height="12" fill="#ff0000"/>
<rect x="411" y="548" width="1" height="24" fill="#0000ff"/>
<rect x="409" y="556" width="5" height="9" fill="#0000ff"/>
<rect x="410" y="557" width="3" height="7" fill="#32cd32"/>
<rect x="419" y="536" width="1" height="21" fill="#0000ff"/>
<rect x="417" y="545" width="5" height="12" fill="#0000ff"/>
<rect x="418" y="546" width="3" height="10" fill="#32cd32"/>
<rect x="427" y="531" width="1" height="21" fill="#0000ff"/>
<rect x="425" y="539" width="5" height="7" fill="#0000ff"/>
<rect x="426" y="540" width="3" height="5" fill="#32cd32"/>
<rect x="435" y="523" width="1" height="22" fill="#0000ff"/>
<rect x="433" y="526" width="5" height="14" fill="#0000ff"/>
<rect x="434" y="527" width="3" height="12" fill="#32cd32"/>
<rect x="443" y="486" width="1" height="43" fill="#0000ff"/>
<rect x="441" y="500" width="5" height="27" fill="#0000ff"/>
<rect x="442" y="501" width="3" height="25" fill="#32cd32"/>
<rect x="451" y="490" width="1" height="20" fill="#0000ff"/>
<rect x="449" y="494" width="5" height="7" fill="#0000ff"/>
<rect x="450" y="495" width="3" height="5" fill="#32cd32"/>
<rect x="459" y="479" width="1" height="23" fill="#0000ff"/>
<rect x="457" y="496" width="5" height="3" fill="#0000ff"/>
<rect x="458" y="497" width="3" height="1" fill="#32cd32"/>
<rect x="467" y="488" width="1" height="46" fill="#0000ff"/>
<rect x="465" y="496" width="5" height="12" fill="#0000ff"/>
<rect x="466" y="497" width="3" height="10" fill="#ff0000"/>
<rect x="475" y="489" width="1" height="39" fill="#0000ff"/>
<rect x="473" y="493" width="5" height="15" fill="#0000ff"/>
<rect x="474" y="494" width="3" height="13" fill="#32cd32"/>
<rect x="483" y="473" width="1" height="37" fill="#0000ff"/>
<rect x="481" y="493" width="5" height="7" fill="#0000ff"/>
<rect x="482" y="494" width="3" height="5" fill="#ff0000"/>
<rect x="491" y="449" width="1" height="63" fill="#0000ff"/>
<rect x="489" y="449" width="5" height="51" fill="#0000ff"/>
<rect x="490" y="450" width="3" height="49" fill="#32cd32"/>
<rect x="499" y="445" width="1" height="26" fill="#0000ff"/>
<rect x="497" y="449" width="5" height="17" fill="#0000ff"/>
<rect x="498" y="450" width="3" height="15" fill="#ff0000"/>
<rect x="507" y="459" width="1" height="22" fill="#0000ff"/>
<rect x="505" y="465" width="5" height="4" fill="#0000ff"/>
<rect x="506" y="466" width="3" height="2" fill="#ff0000"/>
<rect x="515" y="462" width="1" height="34" fill="#0000ff"/>
<rect x="513" y="468" width="5" height="13" fill="#0000ff"/>
<rect x="514" y="469" width="3" height="11" fill="#ff0000"/>
<rect x="523" y="424" width="1" height="61" fill="#0000ff"/>
<rect x="521" y="424" width="5" height="57" fill="#0000ff"/>
<rect x="522" y="425" width="3" height="55" fill="#32cd32"/>
<rect x="531" y="392" width="1" height="35" fill="#0000ff"/>
<rect x="529" y="394" width="5" height="31" fill="#0000ff"/>
<rect x="530" y="395" width="3" height="29" fill="#32cd32"/>
<rect x="539" y="337" width="1" height="58" fill="#0000ff"/>
<rect x="537" y="348" width="5" height="46" fill="#0000ff"/>
<rect x="538" y="349" width="3" height="44" fill="#32cd32"/>
<rect x="547" y="310" width="1" height="46" fill="#0000ff"/>
<rect x="545" y="312" width="5" height="37" fill="#0000ff"/>
<rect x="546" y="313" width="3" height="35" fill="#32cd32"/>
<rect x="555" y="282" width="1" height="55" fill="#0000ff"/>
<rect x="553" y="284" width="5" height="29" fill="#0000ff"/>
<rect x="554" y="285" width="3" height="27" fill="#32cd32"/>
<rect x="563" y="269" width="1" height="30" fill="#0000ff"/>
<rect x="561" y="271" width="5" height="14" fill="#0000ff"/>
<rect x="562" y="272" width="3" height="12" fill="#32cd32"/>
<rect x="571" y="249" width="1" height="66" fill="#0000ff"/>
<rect x="569" y="271" width="5" height="37" fill="#0000ff"/>
<rect x="570" y="272" width="3" height="35" fill="#ff0000"/>
<rect x="579" y="242" width="1" height="69" fill="#0000ff"/>
<rect x="577" y="270" width="5" height="38" fill="#0000ff"/>
<rect x="578" y="271" width="3" height="36" fill="#32cd32"/>
<rect x="587" y="239" width="1" height="61" fill="#0000ff"/>
<rect x="585" y="270" width="5" height="6" fill="#0000ff"/>
<rect x="586" y="271" width="3" height="4" fill="#ff0000"/>
<rect x="595" y="258" width="1" height="26" fill="#0000ff"/>
<rect x="593" y="275" width="5" height="7" fill="#0000ff"/>
<rect x="594" y="276" width="3" height="5" fill="#ff0000"/>
<rect x="603" y="272" width="1" height="34" fill="#0000ff"/>
<rect x="601" y="278" width="5" height="5" fill="#0000ff"/>
<rect x="602" y="279" width="3" height="3" fill="#32cd32"/>
<rect x="611" y="278" width="1" height="39" fill="#0000ff"/>
<rect x="609" y="278" width="5" height="26" fill="#0000ff"/>
<rect x="610" y="279" width="3" height="24" fill="#ff0000"/>
<rect x="619" y="299" width="1" height="68" fill="#0000ff"/>
<rect x="617" y="303" width="5" height="44" fill="#0000ff"/>
<rect x="618" y="304" width="3" height="42" fill="#ff0000"/>
<rect x="627" y="334" width="1" height="34" fill="#0000ff"/>
<rect x="625" y="342" width="5" height="6" fill="#0000ff"/>
<rect x="626" y="343" width="3" height="4" fill="#32cd32"/>
<rect x="635" y="328" width="1" height="74" fill="#0000ff"/>
<rect x="633" y="342" width="5" height="26" fill="#0000ff"/>
<rect x="634" y="343" width="3" height="24" fill="#ff0000"/>
<rect x="643" y="358" width="1" height="37" fill="#0000ff"/>
<rect x="641" y="368" width="5" height="20" fill="#0000ff"/>
<rect x="642" y="369" width="3" height="18" fill="#ff0000"/>
<rect x="651" y="343" width="1" height="50" fill="#0000ff"/>
<rect x="649" y="351" width="5" height="39" fill="#0000ff"/>
<rect x="650" y="352" width="3" height="37" fill="#32cd32"/>
<rect x="659" y="350" width="1" height="23" fill="#0000ff"/>
<rect x="657" y="351" width="5" height="14" fill="#0000ff"/>
<rect x="658" y="352" width="3" height="12" fill="#ff0000"/>
<rect x="667" y="330" width="1" height="40" fill="#0000ff"/>
<rect x="665" y="348" width="5" height="17" fill="#0000ff"/>
<rect x="666" y="349" width="3" height="15" fill="#32cd32"/>
<rect x="675" y="326" width="1" height="28" fill="#0000ff"/>
<rect x="673" y="332" width="5" height="17" fill="#0000ff"/>
<rect x="674" y="333" width="3" height="15" fill="#32cd32"/>
<rect x="683" y="306" width="1" height="44" fill="#0000ff"/>
<rect x="681" y="332" width="5" height="4" fill="#0000ff"/>
<rect x="682" y="333" width="3" height="2" fill="#ff0000"/>
<rect x="691" y="334" width="1" height="19" fill="#0000ff"/>
<rect x="689" y="335" width="5" height="1" fill="#0000ff"/>
<rect x="699" y="326" width="1" height="42" fill="#0000ff"/>
<rect x="697" y="335" width="5" height="23" fill="#0000ff"/>
<rect x="698" y="336" width="3" height="21" fill="#ff0000"/>
<rect x="707" y="338" width="1" height="25" fill="#0000ff"/>
<rect x="705" y="350" width="5" height="8" fill="#0000ff"/>
<rect x="706" y="351" width="3" height="6" fill="#32cd32"/>
<rect x="715" y="343" width="1" height="65" fill="#0000ff"/>
<rect x="713" y="350" width="5" height="42" fill="#0000ff"/>
<rect x="714" y="351" width="3" height="40" fill="#ff0000"/>
<rect x="723" y="370" width="1" height="47" fill="#0000ff"/>
<rect x="721" y="391" width="5" height="16" fill="#0000ff"/>
<rect x="722" y="392" width="3" height="14" fill="#ff0000"/>
<rect x="731" y="388" width="1" height="53" fill="#0000ff"/>
<rect x="729" y="406" width="5" height="24" fill="#0000ff"/>
<rect x="730" y="407" width="3" height="22" fill="#ff0000"/>
<rect x="739" y="402" width="1" height="37" fill="#0000ff"/>
<rect x="737" y="414" width="5" height="16" fill="#0000ff"/>
<rect x="738" y="415" width="3" height="14" fill="#32cd32"/>
<rect x="747" y="384" width="1" height="56" fill="#0000ff"/>
<rect x="745" y="414" width="5" height="12" fill="#0000ff"/>
<rect x="746" y="415" width="3" height="10" fill="#ff0000"/>
<rect x="755" y="402" width="1" height="52" fill="#0000ff"/>
<rect x="753" y="409" width="5" height="17" fill="#0000ff"/>
<rect x="754" y="410" width="3" height="15" fill="#32cd32"/>
<rect x="763" y="372" width="1" height="44" fill="#0000ff"/>
<rect x="761" y="376" width="5" height="34" fill="#0000ff"/>
<rect x="762" y="377" width="3" height="32" fill="#32cd32"/>
<rect x="771" y="353" width="1" height="36" fill="#0000ff"/>
<rect x="769" y="356" width="5" height="21" fill="#0000ff"/>
<rect x="770" y="357" width="3" height="19" fill="#32cd32"/>
<rect x="779" y="350" width="1" height="42" fill="#0000ff"/>
<rect x="777" y="356" width="5" height="26" fill="#0000ff"/>
<rect x="778" y="357" width="3" height="24" fill="#ff0000"/>
<rect x="787" y="370" width="1" height="18" fill="#0000ff"/>
<rect x="785" y="381" width="5" height="1" fill="#0000ff"/>
<rect x="795" y="376" width="1" height="72" fill="#0000ff"/>
<rect x="793" y="385" width="5" height="30" fill="#0000ff"/>
<rect x="794" y="386" width="3" height="28" fill="#ff0000"/>
<rect x="803" y="402" width="1" height="37" fill="#0000ff"/>
<rect x="801" y="415" width="5" height="7" fill="#0000ff"/>
<rect x="802" y="416" width="3" height="5" fill="#ff0000"/>
<rect x="811" y="380" width="1" height="49" fill="#0000ff"/>
<rect x="809" y="386" width="5" height="36" fill="#0000ff"/>
<rect x="810" y="387" width="3" height="34" fill="#32cd32"/>
<rect x="819" y="384" width="1" height="13" fill="#0000ff"/>
<rect x="817" y="386" width="5" height="9" fill="#0000ff"/>
<rect x="818" y="387" width="3" height="7" fill="#ff0000"/>
<rect x="827" y="385" width="1" height="12" fill="#0000ff"/>
<rect x="825" y="388" width="5" height="7" fill="#0000ff"/>
<rect x="826" y="389" width="3" height="5" fill="#32cd32"/>
<rect x="835" y="385" width="1" height="11" fill="#0000ff"/>
<rect x="833" y="388" width="5" height="6" fill="#0000ff"/>
<rect x="834" y="389" width="3" height="4" fill="#ff0000"/>
<rect x="843" y="364" width="1" height="40" fill="#0000ff"/>
<rect x="841" y="384" width="5" height="12" fill="#0000ff"/>
<rect x="842" y="385" width="3" height="10" fill="#32cd32"/>
<rect x="851" y="380" width="1" height="32" fill="#0000ff"/>
<rect x="849" y="384" width="5" height="4" fill="#0000ff"/>
<rect x="850" y="385" width="3" height="2" fill="#ff0000"/>
<rect x="859" y="378" width="1" height="21" fill="#0000ff"/>
<rect x="857" y="387" width="5" height="3" fill="#0000ff"/>
<rect x="858" y="388" width="3" height="1" fill="#ff0000"/>
<rect x="867" y="382" width="1" height="38" fill="#0000ff"/>
<rect x="865" y="390" width="5" height="29" fill="#0000ff"/>
<rect x="866" y="391" width="3" height="27" fill="#ff0000"/>
<rect x="875" y="381" width="1" height="41" fill="#0000ff"/>
<rect x="873" y="399" width="5" height="20" fill="#0000ff"/>
<rect x="874" y="400" width="3" height="18" fill="#32cd32"/>
<rect x="883" y="398" width="1" height="17" fill="#0000ff"/>
<rect x="881" y="400" width="5" height="6" fill="#0000ff"/>
<rect x="882" y="401" width="3" height="4" fill="#ff0000"/>
<rect x="891" y="405" width="1" height="65" fill="#0000ff"/>
<rect x="889" y="412" width="5" height="42" fill="#0000ff"/>
<rect x="890" y="413" width="3" height="40" fill="#ff0000"/>
<rect x="899" y="450" width="1" height="28" fill="#0000ff"/>
<rect x="897" y="454" width="5" height="6" fill="#0000ff"/>
<rect x="898" y="455" width="3" height="4" fill="#ff0000"/>
<rect x="907" y="449" width="1" height="42" fill="#0000ff"/>
<rect x="905" y="459" width="5" height="30" fill="#0000ff"/>
<rect x="906" y="460" width="3" height="28" fill="#ff0000"/>
<rect x="915" y="482" width="1" height="66" fill="#0000ff"/>
<rect x="913" y="488" width="5" height="43" fill="#0000ff"/>
<rect x="914" y="489" width="3" height="41" fill="#ff0000"/>
<rect x="923" y="478" width="1" height="54" fill="#0000ff"/>
<rect x="921" y="482" width="5" height="49" fill="#0000ff"/>
<rect x="922" y="483" width="3" height="47" fill="#32cd32"/>
<rect x="931" y="465" width="1" height="19" fill="#0000ff"/>
<rect x="929" y="470" width="5" height="13" fill="#0000ff"/>
<rect x="930" y="471" width="3" height="11" fill="#32cd32"/>
<rect x="939" y="441" width="1" height="35" fill="#0000ff"/>
<rect x="937" y="455" width="5" height="20" fill="#0000ff"/>
<rect x="938" y="456" width="3" height="18" fill="#32cd32"/>
<rect x="947" y="445" width="1" height="19" fill="#0000ff"/>
<rect x="945" y="453" width="5" height="3" fill="#0000ff"/>
<rect x="946" y="454" width="3" height="1" fill="#32cd32"/>
<rect x="955" y="412" width="1" height="43" fill="#0000ff"/>
<rect x="953" y="423" width="5" height="31" fill="#0000ff"/>
<rect x="954" y="424" width="3" height="29" fill="#32cd32"/>
<rect x="963" y="412" width="1" height="19" fill="#0000ff"/>
<rect x="961" y="423" width="5" height="1" fill="#0000ff"/>
<rect x="971" y="403" width="1" height="41" fill="#0000ff"/>
<rect x="969" y="422" width="5" height="3" fill="#0000ff"/>
<rect x="970" y="423" width="3" height="1" fill="#ff0000"/>
<rect x="979" y="417" width="1" height="22" fill="#0000ff"/>
<rect x="977" y="425" width="5" height="9" fill="#0000ff"/>
<rect x="978" y="426" width="3" height="7" fill="#ff0000"/>
<rect x="987" y="429" width="1" height="30" fill="#0000ff"/>
<rect x="985" y="433" width="5" height="20" fill="#0000ff"/>
<rect x="986" y="434" width="3" height="18" fill="#ff0000"/>
<rect x="995" y="439" width="1" height="17" fill="#0000ff"/>
<rect x="993" y="449" width="5" height="4" fill="#0000ff"/>
<rect x="994" y="450" width="3" height="2" fill="#32cd32"/>
<rect x="1003" y="443" width="1" height="25" fill="#0000ff"/>
<rect x="1001" y="449" width="5" height="8" fill="#0000ff"/>
<rect x="1002" y="450" width="3" height="6" fill="#ff0000"/>
<rect x="1011" y="454" width="1" height="43" fill="#0000ff"/>
<rect x="1009" y="456" width="5" height="14" fill="#0000ff"/>
<rect x="1010" y="457" width="3" height="12" fill="#ff0000"/>
<rect x="1019" y="459" width="1" height="57" fill="#0000ff"/>
<rect x="1017" y="468" width="5" height="36" fill="#0000ff"/>
<rect x="1018" y="469" width="3" height="34" fill="#ff0000"/>
<rect x="1027" y="485" width="1" height="24" fill="#0000ff"/>
<rect x="1025" y="497" width="5" height="7" fill="#0000ff"/>
<rect x="1026" y="498" width="3" height="5" fill="#32cd32"/>
<rect x="1035" y="476" width="1" height="38" fill="#0000ff"/>
<rect x="1033" y="490" width="5" height="8" fill="#0000ff"/>
<rect x="1034" y="491" width="3" height="6" fill="#32cd32"/>
<rect x="1043" y="464" width="1" height="35" fill="#0000ff"/>
<rect x="1041" y="490" width="5" height="5" fill="#0000ff"/>
<rect x="1042" y="491" width="3" height="3" fill="#ff0000"/>
<rect x="1051" y="472" width="1" height="67" fill="#0000ff"/>
<rect x="1049" y="494" width="5" height="40" fill="#0000ff"/>
<rect x="1050" y="495" width="3" height="38" fill="#ff0000"/>
<rect x="1059" y="509" width="1" height="54" fill="#0000ff"/>
<rect x="1057" y="534" width="5" height="1" fill="#0000ff"/>
<rect x="1067" y="519" width="1" height="40" fill="#0000ff"/>
<rect x="1065" y="521" width="5" height="14" fill="#0000ff"/>
<rect x="1066" y="522" width="3" height="12" fill="#32cd32"/>
<rect x="1075" y="502" width="1" height="24" fill="#0000ff"/>
<rect x="1073" y="504" width="5" height="18" fill="#0000ff"/>
<rect x="1074" y="505" width="3" height="16" fill="#32cd32"/>
<rect x="1083" y="494" width="1" height="30" fill="#0000ff"/>
<rect x="1081" y="505" width="5" height="10" fill="#0000ff"/>
<rect x="1082" y="506" width="3" height="8" fill="#ff0000"/>
<rect x="1091" y="499" width="1" height="60" fill="#0000ff"/>
<rect x="1089" y="514" width="5" height="40" fill="#0000ff"/>
<rect x="1090" y="515" width="3" height="38" fill="#ff0000"/>
<rect x="1099" y="519" width="1" height="60" fill="#0000ff"/>
<rect x="1097" y="523" width="5" height="31" fill="#0000ff"/>
<rect x="1098" y="524" width="3" height="29" fill="#32cd32"/>
<rect x="1107" y="490" width="1" height="39" fill="#0000ff"/>
<rect x="1105" y="496" width="5" height="28" fill="#0000ff"/>
<rect x="1106" y="497" width="3" height="26" fill="#32cd32"/>
<rect x="1115" y="467" width="1" height="39" fill="#0000ff"/>
<rect x="1113" y="488" width="5" height="10" fill="#0000ff"/>
<rect x="1114" y="489" width="3" height="8" fill="#32cd32"/>
<rect x="1123" y="482" width="1" height="11" fill="#0000ff"/>
<rect x="1121" y="482" width="5" height="7" fill="#0000ff"/>
<rect x="1122" y="483" width="3" height="5" fill="#32cd32"/>
<rect x="1131" y="479" width="1" height="46" fill="#0000ff"/>
<rect x="1129" y="501" width="5" height="23" fill="#0000ff"/>
<rect x="1130" y="502" width="3" height="21" fill="#ff0000"/>
<rect x="1139" y="489" width="1" height="37" fill="#0000ff"/>
<rect x="1137" y="496" width="5" height="28" fill="#0000ff"/>
<rect x="1138" y="497" width="3" height="26" fill="#32cd32"/>
<rect x="1147" y="463" width="1" height="43" fill="#0000ff"/>
<rect x="1145" y="470" width="5" height="27" fill="#0000ff"/>
<rect x="1146" y="471" width="3" height="25" fill="#32cd32"/>
<rect x="1155" y="452" width="1" height="26" fill="#0000ff"/>
<rect x="1153" y="455" width="5" height="16" fill="#0000ff"/>
<rect x="1154" y="456" width="3" height="14" fill="#32cd32"/>
<rect x="1163" y="421" width="1" height="58" fill="#0000ff"/>
<rect x="1161" y="443" width="5" height="13" fill="#0000ff"/>
<rect x="1162" y="444" width="3" height="11" fill="#32cd32"/>
<rect x="1171" y="424" width="1" height="25" fill="#0000ff"/>
<rect x="1169" y="429" width="5" height="16" fill="#0000ff"/>
<rect x="1170" y="430" width="3" height="14" fill="#32cd32"/>
<rect x="1179" y="416" width="1" height="27" fill="#0000ff"/>
<rect x="1177" y="436" width="5" height="4" fill="#0000ff"/>
<rect x="1178" y="437" width="3" height="2" fill="#ff0000"/>
<rect x="1187" y="409" width="1" height="36" fill="#0000ff"/>
<rect x="1185" y="419" width="5" height="21" fill="#0000ff"/>
<rect x="1186" y="420" width="3" height="19" fill="#32cd32"/>
<rect x="1195" y="379" width="1" height="46" fill="#0000ff"/>
<rect x="1193" y="412" width="5" height="8" fill="#0000ff"/>
<rect x="1194" y="413" width="3" height="6" fill="#32cd32"/>
<rect x="1203" y="370" width="1" height="46" fill="#0000ff"/>
<rect x="1201" y="387" width="5" height="25" fill="#0000ff"/>
<rect x="1202" y="388" width="3" height="23" fill="#32cd32"/>
<rect x="1211" y="330" width="1" height="61" fill="#0000ff"/>
<rect x="1209" y="332" width="5" height="56" fill="#0000ff"/>
<rect x="1210" y="333" width="3" height="54" fill="#32cd32"/>
<rect x="1219" y="329" width="1" height="14" fill="#0000ff"/>
<rect x="1217" y="332" width="5" height="3" fill="#0000ff"/>
<rect x="1218" y="333" width="3" height="1" fill="#ff0000"/>
<rect x="1227" y="330" width="1" height="27" fill="#0000ff"/>
<rect x="1225" y="335" width="5" height="18" fill="#0000ff"/>
<rect x="1226" y="336" width="3" height="16" fill="#ff0000"/>
<rect x="1243" y="335" width="1" height="30" fill="#0000ff"/>
<rect x="1241" y="342" width="5" height="11" fill="#0000ff"/>
<rect x="1242" y="343" width="3" height="9" fill="#32cd32"/>
<rect x="1251" y="338" width="1" height="31" fill="#0000ff"/>
<rect x="1249" y="342" width="5" height="26" fill="#0000ff"/>
<rect x="1250" y="343" width="3" height="24" fill="#ff0000"/>
<rect x="1259" y="360" width="1" height="37" fill="#0000ff"/>
<rect x="1257" y="367" width="5" height="24" fill="#0000ff"/>
<rect x="1258" y="368" width="3" height="22" fill="#ff0000"/>
<rect x="1267" y="354" width="1" height="86" fill="#0000ff"/>
<rect x="1265" y="391" width="5" height="26" fill="#0000ff"/>
<rect x="1266" y="392" width="3" height="24" fill="#ff0000"/>
<rect x="1275" y="418" width="1" height="44" fill="#0000ff"/>
<rect x="1273" y="433" width="5" height="14" fill="#0000ff"/>
<rect x="1274" y="434" width="3" height="12" fill="#ff0000"/>
<rect x="1283" y="413" width="1" height="56" fill="#0000ff"/>
<rect x="1281" y="413" width="5" height="35" fill="#0000ff"/>
<rect x="1282" y="414" width="3" height="33" fill="#32cd32"/>
<rect x="1291" y="404" width="1" height="37" fill="#0000ff"/>
<rect x="1289" y="414" width="5" height="20" fill="#0000ff"/>
<rect x="1290" y="415" width="3" height="18" fill="#ff0000"/>
<rect x="1299" y="425" width="1" height="70" fill="#0000ff"/>
<rect x="1297" y="433" width="5" height="56" fill="#0000ff"/>
<rect x="1298" y="434" width="3" height="54" fill="#ff0000"/>
<rect x="1307" y="486" width="1" height="35" fill="#0000ff"/>
<rect x="1305" y="488" width="5" height="5" fill="#0000ff"/>
<rect x="1306" y="489" width="3" height="3" fill="#ff0000"/>
<rect x="1315" y="451" width="1" height="46" fill="#0000ff"/>
<rect x="1313" y="464" width="5" height="29" fill="#0000ff"/>
<rect x="1314" y="465" width="3" height="27" fill="#32cd32"/>
<rect x="1323" y="442" width="1" height="31" fill="#0000ff"/>
<rect x="1321" y="451" width="5" height="12" fill="#0000ff"/>
<rect x="1322" y="452" width="3" height="10" fill="#32cd32"/>
<rect x="1331" y="442" width="1" height="14" fill="#0000ff"/>
<rect x="1329" y="444" width="5" height="8" fill="#0000ff"/>
<rect x="1330" y="445" width="3" height="6" fill="#32cd32"/>
<rect x="1339" y="428" width="1" height="38" fill="#0000ff"/>
<rect x="1337" y="430" width="5" height="15" fill="#0000ff"/>
<rect x="1338" y="431" width="3" height="13" fill="#32cd32"/>
<rect x="1347" y="409" width="1" height="33" fill="#0000ff"/>
<rect x="1345" y="415" width="5" height="16" fill="#0000ff"/>
<rect x="1346" y="416" width="3" height="14" fill="#32cd32"/>
<rect x="1355" y="410" width="1" height="41" fill="#0000ff"/>
<rect x="1353" y="415" width="5" height="26" fill="#0000ff"/>
<rect x="1354" y="416" width="3" height="24" fill="#ff0000"/>
<rect x="1363" y="425" width="1" height="23" fill="#0000ff"/>
<rect x="1361" y="435" width="5" height="7" fill="#0000ff"/>
<rect x="1362" y="436" width="3" height="5" fill="#32cd32"/>
<rect x="1371" y="421" width="1" height="37" fill="#0000ff"/>
<rect x="1369" y="440" width="5" height="18" fill="#0000ff"/>
<rect x="1370" y="441" width="3" height="16" fill="#ff0000"/>
<rect x="1379" y="453" width="1" height="60" fill="#0000ff"/>
<rect x="1377" y="457" width="5" height="56" fill="#0000ff"/>
<rect x="1378" y="458" width="3" height="54" fill="#ff0000"/>
<rect x="1387" y="487" width="1" height="35" fill="#0000ff"/>
<rect x="1385" y="512" width="5" height="7" fill="#0000ff"/>
<rect x="1386" y="513" width="3" height="5" fill="#ff0000"/>
<rect x="1395" y="500" width="1" height="31" fill="#0000ff"/>
<rect x="1393" y="500" width="5" height="19" fill="#0000ff"/>
<rect x="1394" y="501" width="3" height="17" fill="#32cd32"/>
<rect x="1403" y="480" width="1" height="52" fill="#0000ff"/>
<rect x="1401" y="486" width="5" height="14" fill="#0000ff"/>
<rect x="1402" y="487" width="3" height="12" fill="#32cd32"/>
<rect x="1411" y="477" width="1" height="21" fill="#0000ff"/>
<rect x="1409" y="486" width="5" height="10" fill="#0000ff"/>
<rect x="1410" y="487" width="3" height="8" fill="#ff0000"/>
<rect x="1419" y="493" width="1" height="48" fill="#0000ff"/>
<rect x="1417" y="502" width="5" height="27" fill="#0000ff"/>
<rect x="1418" y="503" width="3" height="25" fill="#ff0000"/>
<rect x="1427" y="523" width="1" height="24" fill="#0000ff"/>
<rect x="1425" y="528" width="5" height="3" fill="#0000ff"/>
<rect x="1426" y="529" width="3" height="1" fill="#ff0000"/>
<rect x="1435" y="517" width="1" height="21" fill="#0000ff"/>
<rect x="1433" y="531" width="5" height="1" fill="#0000ff"/>
<rect x="1443" y="524" width="1" height="51" fill="#0000ff"/>
<rect x="1441" y="531" width="5" height="12" fill="#0000ff"/>
<rect x="1442" y="532" width="3" height="10" fill="#ff0000"/>
<rect x="1451" y="516" width="1" height="50" fill="#0000ff"/>
<rect x="1449" y="543" width="5" height="3" fill="#0000ff"/>
<rect x="1450" y="544" width="3" height="1" fill="#ff0000"/>
<rect x="1459" y="522" width="1" height="36" fill="#0000ff"/>
<rect x="1457" y="541" width="5" height="6" fill="#0000ff"/>
<rect x="1458" y="542" width="3" height="4" fill="#32cd32"/>
<rect x="1467" y="527" width="1" height="36" fill="#0000ff"/>
<rect x="1465" y="542" width="5" height="5" fill="#0000ff"/>
<rect x="1466" y="543" width="3" height="3" fill="#ff0000"/>
<rect x="1475" y="499" width="1" height="48" fill="#0000ff"/>
<rect x="1473" y="500" width="5" height="47" fill="#0000ff"/>
<rect x="1474" y="501" width="3" height="45" fill="#32cd32"/>
<rect x="1483" y="458" width="1" height="46" fill="#0000ff"/>
<rect x="1481" y="464" width="5" height="38" fill="#0000ff"/>
<rect x="1482" y="465" width="3" height="36" fill="#32cd32"/>
<rect x="1491" y="454" width="1" height="25" fill="#0000ff"/>
<rect x="1489" y="464" width="5" height="10" fill="#0000ff"/>
<rect x="1490" y="465" width="3" height="8" fill="#ff0000"/>
<rect x="1499" y="455" width="1" height="28" fill="#0000ff"/>
<rect x="1497" y="464" width="5" height="11" fill="#0000ff"/>
<rect x="1498" y="465" width="3" height="9" fill="#32cd32"/>
<rect x="1507" y="444" width="1" height="25" fill="#0000ff"/>
<rect x="1505" y="453" width="5" height="12" fill="#0000ff"/>
<rect x="1506" y="454" width="3" height="10" fill="#32cd32"/>
<rect x="1515" y="441" width="1" height="35" fill="#0000ff"/>
<rect x="1513" y="442" width="5" height="13" fill="#0000ff"/>
<rect x="1514" y="443" width="3" height="11" fill="#32cd32"/>
<rect x="1523" y="431" width="1" height="22" fill="#0000ff"/>
<rect x="1521" y="438" width="5" height="5" fill="#0000ff"/>
<rect x="1522" y="439" width="3" height="3" fill="#32cd32"/>
<rect x="1531" y="424" width="1" height="19" fill="#0000ff"/>
<rect x="1529" y="426" width="5" height="13" fill="#0000ff"/>
<rect x="1530" y="427" width="3" height="11" fill="#32cd32"/>
<rect x="1539" y="422" width="1" height="66" fill="#0000ff"/>
<rect x="1537" y="426" width="5" height="34" fill="#0000ff"/>
<rect x="1538" y="427" width="3" height="32" fill="#ff0000"/>
<rect x="1547" y="449" width="1" height="40" fill="#0000ff"/>
<rect x="1545" y="454" width="5" height="5" fill="#0000ff"/>
<rect x="1546" y="455" width="3" height="3" fill="#32cd32"/>
<rect x="1555" y="447" width="1" height="22" fill="#0000ff"/>
<rect x="1553" y="454" width="5" height="10" fill="#0000ff"/>
<rect x="1554" y="455" width="3" height="8" fill="#ff0000"/>
<rect x="1563" y="440" width="1" height="35" fill="#0000ff"/>
<rect x="1561" y="444" width="5" height="29" fill="#0000ff"/>
<rect x="1562" y="445" width="3" height="27" fill="#32cd32"/>
<rect x="1571" y="405" width="1" height="56" fill="#0000ff"/>
<rect x="1569" y="426" width="5" height="20" fill="#0000ff"/>
<rect x="1570" y="427" width="3" height="18" fill="#32cd32"/>
</g>
<text class="an" x="65.2" y="776.8" textLength="100.3" lengthAdjust="spacingAndGlyphs">Harami</text>
<text class="an" x="485.5" y="220.1" textLength="171.7" lengthAdjust="spacingAndGlyphs">Shooting star</text>
<text class="an" x="1129.9" y="299.7" textLength="177.7" lengthAdjust="spacingAndGlyphs">Hanging man</text>
<text class="an" x="859.0" y="593.0" textLength="128.8" lengthAdjust="spacingAndGlyphs">Engulfing</text>
<text class="an" x="1041.2" y="634.7" textLength="115.4" lengthAdjust="spacingAndGlyphs">Hammer</text>
<text class="an" x="1385.0" y="623.7" textLength="115.6" lengthAdjust="spacingAndGlyphs">Hammer</text>
<path d="M115 730 L122.8 738.8 H118.7 V751.3 H111.3 V738.8 H107.2 Z" fill="#fff" stroke="#000" stroke-width="1.6" stroke-linejoin="miter"/>
<path d="M571 246.5 L578.8 237.7 H574.7 V225.2 H567.3 V237.7 H563.2 Z" fill="#fff" stroke="#000" stroke-width="1.6" stroke-linejoin="miter"/>
<path d="M1219 329 L1226.8 320.2 H1222.7 V307.7 H1215.3 V320.2 H1211.2 Z" fill="#fff" stroke="#000" stroke-width="1.6" stroke-linejoin="miter"/>
<path d="M923 542 L930.8 550.8 H926.7 V563.3 H919.3 V550.8 H915.2 Z" fill="#fff" stroke="#000" stroke-width="1.6" stroke-linejoin="miter"/>
<path d="M1099 583.5 L1106.8 592.3 H1102.7 V604.8 H1095.3 V592.3 H1091.2 Z" fill="#fff" stroke="#000" stroke-width="1.6" stroke-linejoin="miter"/>
<path d="M1443.4 574.5 L1451.2 583.3 H1447.1000000000001 V595.8 H1439.7 V583.3 H1435.6000000000001 Z" fill="#fff" stroke="#000" stroke-width="1.6" stroke-linejoin="miter"/>
<rect x="1662.5" y="313.5" width="119" height="40" fill="#fff" stroke="#000" stroke-width="1" shape-rendering="crispEdges"/>
<rect x="1652" y="333" width="10" height="1" fill="#000"/>
<text class="pb" x="1663.5" y="345" textLength="116.5" lengthAdjust="spacingAndGlyphs">156.900</text>
<rect x="1654.5" y="494.5" width="119" height="40" fill="#fff" stroke="#000" stroke-width="1" shape-rendering="crispEdges"/>
<rect x="1644" y="514" width="10" height="1" fill="#000"/>
<text class="pb" x="1655.5" y="526" textLength="116.5" lengthAdjust="spacingAndGlyphs">155.000</text>
<g stroke="#ff0000" stroke-width="2" fill="none" stroke-linecap="round" stroke-linejoin="round">
<polyline points="1612,491.5 1627,504.8 1699,367.4"/>
<polyline points="1675.6,395.2 1699,367.4 1691.5,402.2"/>
</g>
<g fill="#000" shape-rendering="crispEdges">
<rect x="2" y="2" width="1851" height="1"/>
<rect x="2" y="2" width="1" height="871"/>
<rect x="1852" y="2" width="1" height="871"/>
<rect x="2" y="872" width="1851" height="1"/>
<rect x="1853" y="20" width="2" height="1"/>
<rect x="1853" y="69" width="2" height="1"/>
<rect x="1853" y="118" width="2" height="1"/>
<rect x="1853" y="167" width="2" height="1"/>
<rect x="1853" y="216" width="2" height="1"/>
<rect x="1853" y="265" width="2" height="1"/>
<rect x="1853" y="314" width="2" height="1"/>
<rect x="1853" y="363" width="2" height="1"/>
<rect x="1853" y="412" width="2" height="1"/>
<rect x="1853" y="461" width="2" height="1"/>
<rect x="1853" y="510" width="2" height="1"/>
<rect x="1853" y="559" width="2" height="1"/>
<rect x="1853" y="608" width="2" height="1"/>
<rect x="1853" y="657" width="2" height="1"/>
<rect x="1853" y="706" width="2" height="1"/>
<rect x="1853" y="755" width="2" height="1"/>
<rect x="1853" y="804" width="2" height="1"/>
<rect x="1853" y="853" width="2" height="1"/>
<rect x="3" y="873" width="1" height="3"/>
<rect x="99" y="873" width="1" height="3"/>
<rect x="195" y="873" width="1" height="3"/>
<rect x="291" y="873" width="1" height="3"/>
<rect x="387" y="873" width="1" height="3"/>
<rect x="483" y="873" width="1" height="3"/>
<rect x="579" y="873" width="1" height="3"/>
<rect x="675" y="873" width="1" height="3"/>
<rect x="771" y="873" width="1" height="3"/>
<rect x="867" y="873" width="1" height="3"/>
<rect x="963" y="873" width="1" height="3"/>
<rect x="1059" y="873" width="1" height="3"/>
<rect x="1155" y="873" width="1" height="3"/>
<rect x="1251" y="873" width="1" height="3"/>
<rect x="1347" y="873" width="1" height="3"/>
<rect x="1443" y="873" width="1" height="3"/>
<rect x="1539" y="873" width="1" height="3"/>
</g>
<text class="ax" x="1858.5" y="25.2" textLength="46.8" lengthAdjust="spacingAndGlyphs">160.180</text>
<text class="ax" x="1858.5" y="74.2" textLength="46.8" lengthAdjust="spacingAndGlyphs">159.660</text>
<text class="ax" x="1858.5" y="123.2" textLength="46.8" lengthAdjust="spacingAndGlyphs">159.150</text>
<text class="ax" x="1858.5" y="172.2" textLength="46.8" lengthAdjust="spacingAndGlyphs">158.640</text>
<text class="ax" x="1858.5" y="221.2" textLength="46.8" lengthAdjust="spacingAndGlyphs">158.120</text>
<text class="ax" x="1858.5" y="270.2" textLength="46.8" lengthAdjust="spacingAndGlyphs">157.610</text>
<text class="ax" x="1858.5" y="319.2" textLength="46.8" lengthAdjust="spacingAndGlyphs">157.100</text>
<text class="ax" x="1858.5" y="368.2" textLength="46.8" lengthAdjust="spacingAndGlyphs">156.580</text>
<text class="ax" x="1858.5" y="417.2" textLength="46.8" lengthAdjust="spacingAndGlyphs">156.070</text>
<text class="ax" x="1858.5" y="466.2" textLength="46.8" lengthAdjust="spacingAndGlyphs">155.560</text>
<text class="ax" x="1858.5" y="515.2" textLength="46.8" lengthAdjust="spacingAndGlyphs">155.050</text>
<text class="ax" x="1858.5" y="564.2" textLength="46.8" lengthAdjust="spacingAndGlyphs">154.530</text>
<text class="ax" x="1858.5" y="613.2" textLength="46.8" lengthAdjust="spacingAndGlyphs">154.020</text>
<text class="ax" x="1858.5" y="662.2" textLength="46.8" lengthAdjust="spacingAndGlyphs">153.510</text>
<text class="ax" x="1858.5" y="711.2" textLength="46.8" lengthAdjust="spacingAndGlyphs">152.990</text>
<text class="ax" x="1858.5" y="760.2" textLength="46.8" lengthAdjust="spacingAndGlyphs">152.480</text>
<text class="ax" x="1858.5" y="809.2" textLength="46.8" lengthAdjust="spacingAndGlyphs">151.970</text>
<text class="ax" x="1858.5" y="858.2" textLength="46.8" lengthAdjust="spacingAndGlyphs">151.450</text>
<rect x="1854" y="419" width="56" height="14" fill="#000"/>
<text class="ax" x="1858.5" y="430.6" textLength="46.8" lengthAdjust="spacingAndGlyphs" style="fill:#fff">155.930</text>
<text class="ax" x="1.6" y="888" textLength="65" lengthAdjust="spacingAndGlyphs">4 Nov 2025</text>
<text class="ax" x="97.6" y="888" textLength="68.5" lengthAdjust="spacingAndGlyphs">6 Nov 12:00</text>
<text class="ax" x="193.6" y="888" textLength="75" lengthAdjust="spacingAndGlyphs">10 Nov 12:00</text>
<text class="ax" x="289.6" y="888" textLength="75" lengthAdjust="spacingAndGlyphs">12 Nov 12:00</text>
<text class="ax" x="385.6" y="888" textLength="75" lengthAdjust="spacingAndGlyphs">14 Nov 12:00</text>
<text class="ax" x="481.6" y="888" textLength="75" lengthAdjust="spacingAndGlyphs">18 Nov 12:00</text>
<text class="ax" x="577.6" y="888" textLength="75" lengthAdjust="spacingAndGlyphs">20 Nov 12:00</text>
<text class="ax" x="673.6" y="888" textLength="75" lengthAdjust="spacingAndGlyphs">24 Nov 12:00</text>
<text class="ax" x="769.6" y="888" textLength="75" lengthAdjust="spacingAndGlyphs">26 Nov 12:00</text>
<text class="ax" x="865.6" y="888" textLength="75" lengthAdjust="spacingAndGlyphs">28 Nov 12:00</text>
<text class="ax" x="961.6" y="888" textLength="68.5" lengthAdjust="spacingAndGlyphs">2 Dec 12:00</text>
<text class="ax" x="1057.6" y="888" textLength="68.5" lengthAdjust="spacingAndGlyphs">4 Dec 12:00</text>
<text class="ax" x="1153.6" y="888" textLength="68.5" lengthAdjust="spacingAndGlyphs">8 Dec 12:00</text>
<text class="ax" x="1249.6" y="888" textLength="75" lengthAdjust="spacingAndGlyphs">10 Dec 12:00</text>
<text class="ax" x="1345.6" y="888" textLength="75" lengthAdjust="spacingAndGlyphs">12 Dec 12:00</text>
<text class="ax" x="1441.6" y="888" textLength="75" lengthAdjust="spacingAndGlyphs">16 Dec 12:00</text>
<text class="ax" x="1537.6" y="888" textLength="75" lengthAdjust="spacingAndGlyphs">18 Dec 12:00</text>
<path d="M6 10.5 H15 L10.5 15.5 Z" fill="#000"/>
<text class="ax" x="20.3" y="17" textLength="62.2" lengthAdjust="spacingAndGlyphs">USDJPY,H4</text>
<text class="ax" x="90.6" y="17" textLength="46" lengthAdjust="spacingAndGlyphs">155.731</text>
<text class="ax" x="140.7" y="17" textLength="46" lengthAdjust="spacingAndGlyphs">156.150</text>
<text class="ax" x="190.8" y="17" textLength="46" lengthAdjust="spacingAndGlyphs">155.577</text>
<text class="ax" x="240.9" y="17" textLength="46" lengthAdjust="spacingAndGlyphs">155.930</text>
</svg></body></html>
